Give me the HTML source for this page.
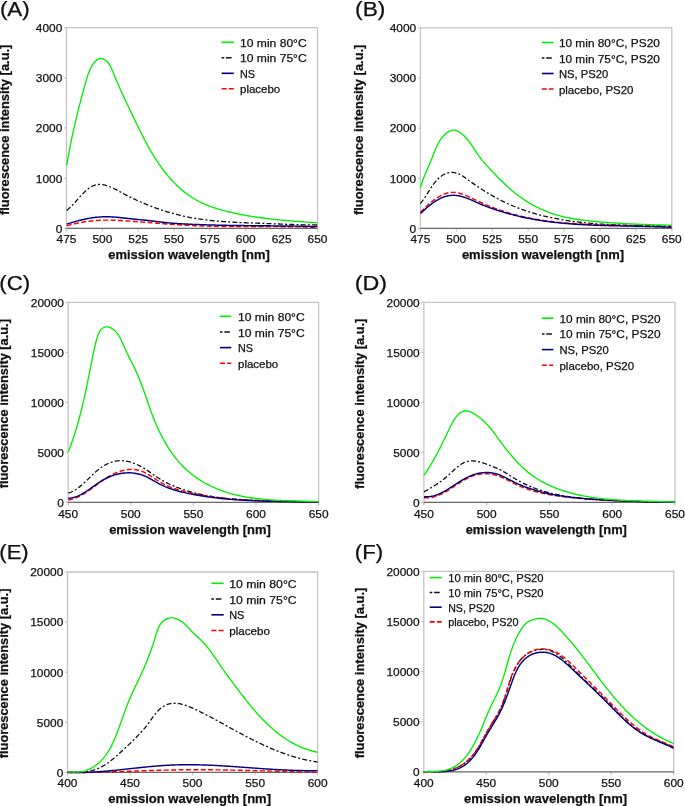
<!DOCTYPE html>
<html><head><meta charset="utf-8"><style>
html,body{margin:0;padding:0;background:#fff;}
body{width:685px;height:806px;overflow:hidden;}
svg{display:block;filter:blur(0.35px);}
text{font-family:"Liberation Sans", sans-serif;fill:#111;stroke:#111;stroke-width:0.25px;}
</style></head><body>
<svg width="685" height="806" viewBox="0 0 685 806">
<rect width="685" height="806" fill="#fff"/>
<path d="M66.5,27.7 H317.5 V230.6" fill="none" stroke="#c4c4c4" stroke-width="1.3"/>
<path d="M66.5,27.7 V230.6" fill="none" stroke="#c4c4c4" stroke-width="1.3"/>
<path d="M64,228.4 H66.5" stroke="#c4c4c4" stroke-width="1.2"/>
<text x="62.3" y="232.7" font-size="11.6" text-anchor="end" font-weight="normal" textLength="6.62" lengthAdjust="spacingAndGlyphs">0</text>
<path d="M64,178.22 H66.5" stroke="#c4c4c4" stroke-width="1.2"/>
<text x="62.3" y="182.53" font-size="11.6" text-anchor="end" font-weight="normal" textLength="26.48" lengthAdjust="spacingAndGlyphs">1000</text>
<path d="M64,128.05 H66.5" stroke="#c4c4c4" stroke-width="1.2"/>
<text x="62.3" y="132.35" font-size="11.6" text-anchor="end" font-weight="normal" textLength="26.48" lengthAdjust="spacingAndGlyphs">2000</text>
<path d="M64,77.88 H66.5" stroke="#c4c4c4" stroke-width="1.2"/>
<text x="62.3" y="82.17" font-size="11.6" text-anchor="end" font-weight="normal" textLength="26.48" lengthAdjust="spacingAndGlyphs">3000</text>
<path d="M64,27.7 H66.5" stroke="#c4c4c4" stroke-width="1.2"/>
<text x="62.3" y="32" font-size="11.6" text-anchor="end" font-weight="normal" textLength="26.48" lengthAdjust="spacingAndGlyphs">4000</text>
<path d="M66.5,228.4 V231.6" stroke="#c4c4c4" stroke-width="1.1"/>
<text x="66.5" y="243" font-size="11.6" text-anchor="middle" font-weight="normal" textLength="19.86" lengthAdjust="spacingAndGlyphs">475</text>
<path d="M102.36,228.4 V231.6" stroke="#c4c4c4" stroke-width="1.1"/>
<text x="102.36" y="243" font-size="11.6" text-anchor="middle" font-weight="normal" textLength="19.86" lengthAdjust="spacingAndGlyphs">500</text>
<path d="M138.21,228.4 V231.6" stroke="#c4c4c4" stroke-width="1.1"/>
<text x="138.21" y="243" font-size="11.6" text-anchor="middle" font-weight="normal" textLength="19.86" lengthAdjust="spacingAndGlyphs">525</text>
<path d="M174.07,228.4 V231.6" stroke="#c4c4c4" stroke-width="1.1"/>
<text x="174.07" y="243" font-size="11.6" text-anchor="middle" font-weight="normal" textLength="19.86" lengthAdjust="spacingAndGlyphs">550</text>
<path d="M209.93,228.4 V231.6" stroke="#c4c4c4" stroke-width="1.1"/>
<text x="209.93" y="243" font-size="11.6" text-anchor="middle" font-weight="normal" textLength="19.86" lengthAdjust="spacingAndGlyphs">575</text>
<path d="M245.79,228.4 V231.6" stroke="#c4c4c4" stroke-width="1.1"/>
<text x="245.79" y="243" font-size="11.6" text-anchor="middle" font-weight="normal" textLength="19.86" lengthAdjust="spacingAndGlyphs">600</text>
<path d="M281.64,228.4 V231.6" stroke="#c4c4c4" stroke-width="1.1"/>
<text x="281.64" y="243" font-size="11.6" text-anchor="middle" font-weight="normal" textLength="19.86" lengthAdjust="spacingAndGlyphs">625</text>
<path d="M317.5,228.4 V231.6" stroke="#c4c4c4" stroke-width="1.1"/>
<text x="317.5" y="243" font-size="11.6" text-anchor="middle" font-weight="normal" textLength="19.86" lengthAdjust="spacingAndGlyphs">650</text>
<path d="M66.5,228.4 H317.5" stroke="#686868" stroke-width="1.3"/>
<path d="M66.7,210.4 L67.64,209.63 L68.55,208.87 L69.44,208.08 L70.32,207.26 L71.19,206.42 L72.04,205.56 L72.88,204.68 L73.72,203.78 L74.54,202.88 L75.37,201.96 L76.19,201.03 L77.01,200.09 L77.83,199.16 L78.65,198.22 L79.48,197.28 L80.32,196.35 L81.17,195.43 L82.02,194.51 L82.89,193.61 L83.78,192.72 L84.68,191.85 L85.6,190.99 L86.54,190.16 L87.5,189.36 L88.48,188.59 L89.49,187.86 L90.51,187.18 L91.56,186.56 L92.62,186.01 L93.7,185.53 L94.8,185.13 L95.92,184.82 L97.05,184.61 L98.2,184.48 L99.36,184.43 L100.53,184.46 L101.7,184.56 L102.88,184.72 L104.06,184.94 L105.23,185.22 L106.4,185.55 L107.57,185.92 L108.72,186.32 L109.86,186.76 L110.99,187.23 L112.11,187.72 L113.22,188.24 L114.33,188.78 L115.42,189.33 L116.51,189.89 L117.6,190.47 L118.68,191.05 L119.77,191.64 L120.85,192.23 L121.93,192.82 L123.02,193.4 L124.11,193.98 L125.2,194.55 L126.29,195.12 L127.38,195.68 L128.48,196.24 L129.58,196.79 L130.68,197.33 L131.78,197.87 L132.89,198.41 L134,198.94 L135.11,199.46 L136.22,199.98 L137.34,200.49 L138.45,201 L139.57,201.5 L140.69,201.99 L141.82,202.48 L142.94,202.97 L144.07,203.44 L145.2,203.92 L146.33,204.38 L147.46,204.84 L148.6,205.3 L149.73,205.75 L150.87,206.19 L152.01,206.63 L153.16,207.06 L154.3,207.49 L155.45,207.9 L156.6,208.32 L157.75,208.73 L158.9,209.13 L160.05,209.52 L161.21,209.91 L162.37,210.29 L163.53,210.67 L164.69,211.04 L165.85,211.4 L167.01,211.76 L168.18,212.11 L169.35,212.46 L170.52,212.8 L171.69,213.13 L172.86,213.45 L174.04,213.77 L175.21,214.09 L176.39,214.39 L177.57,214.69 L178.75,214.99 L179.93,215.27 L181.11,215.55 L182.3,215.83 L183.48,216.09 L184.67,216.35 L185.86,216.61 L187.05,216.85 L188.24,217.09 L189.44,217.33 L190.63,217.55 L191.83,217.77 L193.03,217.99 L194.22,218.19 L195.42,218.39 L196.63,218.59 L197.83,218.78 L199.03,218.96 L200.24,219.14 L201.44,219.31 L202.65,219.47 L203.86,219.63 L205.06,219.79 L206.27,219.94 L207.48,220.09 L208.7,220.23 L209.91,220.36 L211.12,220.49 L212.34,220.62 L213.55,220.74 L214.77,220.86 L215.98,220.97 L217.2,221.08 L218.42,221.18 L219.63,221.29 L220.85,221.38 L222.07,221.48 L223.29,221.57 L224.51,221.66 L225.73,221.74 L226.95,221.82 L228.18,221.9 L229.4,221.97 L230.62,222.05 L231.84,222.12 L233.07,222.18 L234.29,222.25 L235.51,222.31 L236.74,222.37 L237.96,222.43 L239.18,222.49 L240.41,222.54 L241.63,222.59 L242.86,222.65 L244.08,222.7 L245.31,222.74 L246.53,222.79 L247.75,222.84 L248.98,222.88 L250.2,222.93 L251.43,222.97 L252.65,223.02 L253.87,223.06 L255.1,223.1 L256.32,223.14 L257.54,223.19 L258.76,223.23 L259.99,223.27 L261.21,223.31 L262.43,223.36 L263.65,223.4 L264.87,223.44 L266.09,223.49 L267.31,223.53 L268.53,223.58 L269.74,223.63 L270.96,223.67 L272.18,223.72 L273.4,223.77 L274.61,223.82 L275.83,223.87 L277.05,223.92 L278.26,223.96 L279.48,224.01 L280.69,224.06 L281.91,224.11 L283.13,224.15 L284.34,224.2 L285.56,224.25 L286.77,224.29 L287.99,224.34 L289.21,224.38 L290.42,224.42 L291.64,224.47 L292.86,224.51 L294.07,224.54 L295.29,224.58 L296.51,224.62 L297.73,224.65 L298.95,224.69 L300.17,224.72 L301.39,224.75 L302.61,224.78 L303.83,224.8 L305.05,224.82 L306.28,224.85 L307.5,224.86 L308.73,224.88 L309.95,224.9 L311.18,224.91 L312.41,224.92 L313.63,224.92 L314.86,224.92 L316.09,224.93 L317.3,225" fill="none" stroke="#111111" stroke-width="1.3" stroke-dasharray="5 2.2 2 2.2" stroke-linejoin="round"/>
<path d="M66.7,225.4 L67.85,225.43 L68.97,225.13 L70.09,224.84 L71.22,224.55 L72.34,224.28 L73.47,224.01 L74.59,223.75 L75.72,223.5 L76.84,223.26 L77.97,223.03 L79.1,222.81 L80.23,222.59 L81.36,222.39 L82.49,222.19 L83.62,222 L84.76,221.82 L85.89,221.65 L87.02,221.49 L88.16,221.33 L89.29,221.19 L90.43,221.05 L91.57,220.93 L92.7,220.81 L93.84,220.7 L94.98,220.6 L96.12,220.51 L97.26,220.43 L98.4,220.36 L99.54,220.29 L100.68,220.24 L101.82,220.19 L102.96,220.16 L104.1,220.13 L105.25,220.11 L106.39,220.1 L107.53,220.1 L108.67,220.11 L109.82,220.13 L110.96,220.15 L112.11,220.18 L113.25,220.21 L114.4,220.25 L115.54,220.3 L116.69,220.35 L117.83,220.4 L118.98,220.46 L120.12,220.52 L121.27,220.59 L122.41,220.66 L123.56,220.73 L124.7,220.8 L125.85,220.87 L126.99,220.95 L128.14,221.02 L129.28,221.1 L130.43,221.18 L131.57,221.26 L132.71,221.34 L133.86,221.42 L135,221.51 L136.15,221.59 L137.29,221.68 L138.44,221.76 L139.58,221.85 L140.72,221.94 L141.87,222.02 L143.01,222.11 L144.16,222.2 L145.3,222.29 L146.44,222.38 L147.59,222.47 L148.73,222.56 L149.88,222.65 L151.02,222.74 L152.16,222.83 L153.31,222.93 L154.45,223.02 L155.6,223.11 L156.74,223.2 L157.88,223.29 L159.03,223.38 L160.17,223.47 L161.31,223.56 L162.46,223.64 L163.6,223.73 L164.75,223.82 L165.89,223.91 L167.03,223.99 L168.18,224.08 L169.32,224.16 L170.47,224.24 L171.61,224.33 L172.76,224.41 L173.9,224.49 L175.04,224.57 L176.19,224.64 L177.33,224.72 L178.48,224.8 L179.62,224.87 L180.77,224.94 L181.91,225.01 L183.06,225.08 L184.2,225.15 L185.35,225.21 L186.49,225.28 L187.64,225.34 L188.78,225.4 L189.93,225.46 L191.07,225.51 L192.22,225.57 L193.37,225.62 L194.51,225.67 L195.66,225.72 L196.8,225.76 L197.95,225.81 L199.1,225.85 L200.24,225.9 L201.39,225.94 L202.53,225.97 L203.68,226.01 L204.83,226.05 L205.97,226.08 L207.12,226.11 L208.27,226.14 L209.42,226.17 L210.56,226.2 L211.71,226.23 L212.86,226.25 L214,226.28 L215.15,226.3 L216.3,226.32 L217.45,226.34 L218.59,226.36 L219.74,226.38 L220.89,226.4 L222.04,226.42 L223.18,226.43 L224.33,226.44 L225.48,226.46 L226.63,226.47 L227.77,226.48 L228.92,226.49 L230.07,226.5 L231.22,226.51 L232.37,226.52 L233.51,226.53 L234.66,226.54 L235.81,226.54 L236.96,226.55 L238.11,226.55 L239.25,226.56 L240.4,226.56 L241.55,226.57 L242.7,226.57 L243.85,226.57 L245,226.58 L246.14,226.58 L247.29,226.58 L248.44,226.58 L249.59,226.58 L250.74,226.58 L251.88,226.58 L253.03,226.59 L254.18,226.59 L255.33,226.59 L256.48,226.59 L257.63,226.59 L258.77,226.59 L259.92,226.59 L261.07,226.59 L262.22,226.59 L263.37,226.59 L264.52,226.59 L265.66,226.59 L266.81,226.6 L267.96,226.6 L269.11,226.6 L270.26,226.6 L271.4,226.61 L272.55,226.61 L273.7,226.61 L274.85,226.62 L276,226.62 L277.14,226.63 L278.29,226.63 L279.44,226.64 L280.59,226.65 L281.74,226.66 L282.88,226.66 L284.03,226.67 L285.18,226.68 L286.33,226.69 L287.47,226.71 L288.62,226.72 L289.77,226.73 L290.92,226.75 L292.06,226.76 L293.21,226.78 L294.36,226.8 L295.51,226.82 L296.65,226.84 L297.8,226.86 L298.95,226.88 L300.09,226.9 L301.24,226.93 L302.39,226.95 L303.53,226.98 L304.68,227.01 L305.83,227.04 L306.97,227.07 L308.12,227.1 L309.27,227.14 L310.41,227.17 L311.56,227.21 L312.7,227.25 L313.85,227.29 L315,227.33 L316.14,227.37 L317.3,227.2" fill="none" stroke="#ff0000" stroke-width="1.45" stroke-dasharray="5 2.4" stroke-linejoin="round"/>
<path d="M66.7,223.9 L67.84,223.77 L68.95,223.42 L70.05,223.08 L71.16,222.75 L72.27,222.42 L73.38,222.09 L74.49,221.77 L75.6,221.46 L76.72,221.16 L77.83,220.86 L78.95,220.57 L80.06,220.28 L81.18,220.01 L82.3,219.74 L83.42,219.48 L84.54,219.24 L85.66,219 L86.79,218.77 L87.91,218.55 L89.04,218.34 L90.16,218.15 L91.29,217.96 L92.42,217.79 L93.55,217.62 L94.68,217.48 L95.81,217.34 L96.94,217.22 L98.08,217.11 L99.22,217.01 L100.35,216.93 L101.49,216.86 L102.63,216.81 L103.77,216.77 L104.91,216.75 L106.05,216.74 L107.2,216.75 L108.34,216.78 L109.49,216.81 L110.63,216.86 L111.78,216.91 L112.93,216.98 L114.08,217.06 L115.22,217.15 L116.37,217.24 L117.52,217.34 L118.67,217.45 L119.82,217.57 L120.97,217.68 L122.12,217.81 L123.27,217.93 L124.42,218.06 L125.57,218.19 L126.72,218.32 L127.87,218.45 L129.02,218.58 L130.17,218.7 L131.31,218.83 L132.46,218.95 L133.61,219.07 L134.75,219.18 L135.9,219.3 L137.04,219.41 L138.18,219.52 L139.33,219.63 L140.47,219.75 L141.61,219.86 L142.75,219.97 L143.89,220.09 L145.03,220.2 L146.17,220.32 L147.31,220.44 L148.45,220.56 L149.59,220.69 L150.73,220.82 L151.87,220.95 L153.01,221.08 L154.15,221.22 L155.28,221.35 L156.42,221.49 L157.56,221.63 L158.7,221.76 L159.84,221.9 L160.98,222.03 L162.12,222.16 L163.26,222.29 L164.4,222.42 L165.54,222.55 L166.68,222.67 L167.83,222.78 L168.97,222.9 L170.11,223 L171.26,223.11 L172.4,223.2 L173.55,223.29 L174.69,223.37 L175.84,223.45 L176.99,223.53 L178.14,223.6 L179.28,223.67 L180.43,223.73 L181.58,223.8 L182.73,223.86 L183.88,223.92 L185.03,223.98 L186.17,224.04 L187.32,224.09 L188.47,224.15 L189.62,224.2 L190.77,224.26 L191.92,224.31 L193.07,224.36 L194.22,224.41 L195.37,224.45 L196.51,224.5 L197.66,224.55 L198.81,224.59 L199.96,224.63 L201.11,224.67 L202.26,224.71 L203.41,224.75 L204.56,224.79 L205.71,224.83 L206.86,224.86 L208.01,224.9 L209.16,224.93 L210.31,224.97 L211.46,225 L212.61,225.03 L213.76,225.06 L214.91,225.09 L216.06,225.12 L217.21,225.15 L218.36,225.17 L219.51,225.2 L220.66,225.22 L221.81,225.25 L222.96,225.27 L224.11,225.29 L225.26,225.32 L226.41,225.34 L227.56,225.36 L228.71,225.38 L229.86,225.4 L231.01,225.42 L232.16,225.43 L233.32,225.45 L234.47,225.47 L235.62,225.48 L236.77,225.5 L237.92,225.52 L239.07,225.53 L240.22,225.55 L241.37,225.56 L242.52,225.57 L243.67,225.59 L244.82,225.6 L245.97,225.61 L247.12,225.63 L248.27,225.64 L249.42,225.65 L250.58,225.66 L251.73,225.67 L252.88,225.68 L254.03,225.69 L255.18,225.7 L256.33,225.71 L257.48,225.73 L258.63,225.74 L259.78,225.75 L260.93,225.76 L262.08,225.77 L263.23,225.78 L264.38,225.79 L265.54,225.8 L266.69,225.81 L267.84,225.82 L268.99,225.83 L270.14,225.84 L271.29,225.85 L272.44,225.86 L273.59,225.87 L274.74,225.88 L275.89,225.89 L277.04,225.9 L278.19,225.91 L279.34,225.93 L280.49,225.94 L281.64,225.95 L282.8,225.96 L283.95,225.98 L285.1,225.99 L286.25,226 L287.4,226.02 L288.55,226.03 L289.7,226.05 L290.85,226.06 L292,226.08 L293.15,226.09 L294.3,226.11 L295.45,226.13 L296.6,226.15 L297.75,226.17 L298.9,226.19 L300.05,226.21 L301.2,226.23 L302.35,226.25 L303.5,226.27 L304.65,226.29 L305.8,226.32 L306.95,226.34 L308.1,226.37 L309.25,226.39 L310.4,226.42 L311.55,226.45 L312.69,226.48 L313.84,226.51 L314.99,226.54 L316.14,226.57 L317.3,226.5" fill="none" stroke="#000080" stroke-width="1.45" stroke-linejoin="round"/>
<path d="M66.7,165.1 L67.05,163.23 L67.38,161.33 L67.71,159.45 L68.05,157.56 L68.39,155.69 L68.73,153.82 L69.08,151.95 L69.44,150.09 L69.8,148.23 L70.16,146.38 L70.52,144.53 L70.89,142.69 L71.27,140.85 L71.65,139.01 L72.03,137.17 L72.42,135.34 L72.81,133.51 L73.21,131.68 L73.61,129.86 L74.02,128.03 L74.43,126.21 L74.85,124.39 L75.27,122.57 L75.69,120.75 L76.12,118.93 L76.56,117.11 L76.99,115.29 L77.44,113.48 L77.89,111.66 L78.34,109.84 L78.8,108.02 L79.26,106.2 L79.73,104.37 L80.2,102.55 L80.68,100.72 L81.16,98.9 L81.65,97.07 L82.14,95.23 L82.64,93.4 L83.15,91.56 L83.65,89.72 L84.17,87.87 L84.69,86.02 L85.21,84.17 L85.74,82.31 L86.27,80.45 L86.82,78.59 L87.38,76.73 L87.97,74.89 L88.6,73.07 L89.29,71.29 L90.03,69.54 L90.84,67.84 L91.73,66.2 L92.72,64.63 L93.8,63.12 L95,61.7 L96.32,60.38 L97.77,59.28 L99.37,58.6 L101.12,58.5 L102.88,58.86 L104.52,59.56 L105.97,60.51 L107.26,61.68 L108.41,63.03 L109.44,64.54 L110.37,66.19 L111.22,67.93 L112.02,69.74 L112.78,71.59 L113.53,73.45 L114.27,75.29 L115.03,77.12 L115.78,78.94 L116.54,80.73 L117.31,82.52 L118.08,84.29 L118.85,86.05 L119.62,87.79 L120.4,89.53 L121.19,91.26 L121.97,92.97 L122.76,94.68 L123.55,96.39 L124.34,98.08 L125.13,99.77 L125.93,101.46 L126.73,103.14 L127.53,104.82 L128.33,106.5 L129.14,108.18 L129.94,109.86 L130.74,111.54 L131.55,113.22 L132.36,114.9 L133.16,116.58 L133.97,118.27 L134.78,119.96 L135.6,121.66 L136.41,123.35 L137.23,125.04 L138.05,126.74 L138.88,128.43 L139.71,130.13 L140.55,131.82 L141.39,133.51 L142.25,135.2 L143.1,136.88 L143.97,138.56 L144.85,140.24 L145.73,141.92 L146.62,143.58 L147.53,145.25 L148.44,146.91 L149.37,148.56 L150.31,150.2 L151.26,151.84 L152.22,153.47 L153.2,155.09 L154.19,156.7 L155.2,158.31 L156.22,159.9 L157.26,161.48 L158.31,163.06 L159.38,164.62 L160.47,166.17 L161.58,167.71 L162.7,169.23 L163.85,170.74 L165.01,172.24 L166.19,173.72 L167.4,175.19 L168.62,176.64 L169.87,178.07 L171.13,179.48 L172.42,180.88 L173.72,182.25 L175.05,183.61 L176.4,184.94 L177.76,186.24 L179.15,187.52 L180.56,188.78 L181.98,190.01 L183.43,191.21 L184.9,192.38 L186.39,193.53 L187.91,194.64 L189.44,195.72 L190.99,196.77 L192.56,197.79 L194.16,198.77 L195.78,199.71 L197.41,200.62 L199.07,201.5 L200.75,202.33 L202.44,203.14 L204.16,203.91 L205.89,204.65 L207.63,205.36 L209.39,206.04 L211.16,206.7 L212.95,207.32 L214.74,207.93 L216.55,208.51 L218.36,209.06 L220.18,209.6 L222.01,210.11 L223.85,210.61 L225.69,211.09 L227.53,211.55 L229.38,211.99 L231.23,212.43 L233.08,212.84 L234.93,213.25 L236.79,213.65 L238.64,214.03 L240.49,214.4 L242.35,214.76 L244.2,215.1 L246.06,215.44 L247.92,215.77 L249.78,216.08 L251.64,216.39 L253.5,216.68 L255.36,216.97 L257.22,217.24 L259.09,217.51 L260.95,217.77 L262.82,218.02 L264.68,218.26 L266.55,218.49 L268.42,218.72 L270.29,218.94 L272.16,219.15 L274.03,219.35 L275.9,219.55 L277.78,219.74 L279.65,219.93 L281.52,220.11 L283.4,220.28 L285.28,220.45 L287.15,220.62 L289.03,220.78 L290.91,220.93 L292.79,221.08 L294.68,221.23 L296.56,221.38 L298.44,221.52 L300.33,221.66 L302.21,221.79 L304.1,221.93 L305.98,222.06 L307.87,222.19 L309.76,222.31 L311.65,222.44 L313.54,222.57 L315.43,222.69 L317.3,222.8" fill="none" stroke="#00f000" stroke-width="1.35" stroke-linejoin="round"/>
<path d="M221.6,42.3 H233.8" stroke="#00f000" stroke-width="1.6"/>
<text x="240" y="46.89" font-size="11.2" text-anchor="start" font-weight="normal" textLength="66.7" lengthAdjust="spacingAndGlyphs">10 min 80°C</text>
<path d="M221.6,57.8 H233.8" stroke="#111111" stroke-width="1.45" stroke-dasharray="2.6 1.8 5.6 4"/>
<text x="240" y="62.39" font-size="11.2" text-anchor="start" font-weight="normal" textLength="66.7" lengthAdjust="spacingAndGlyphs">10 min 75°C</text>
<path d="M221.6,73.3 H233.8" stroke="#000080" stroke-width="1.6"/>
<text x="240" y="77.89" font-size="11.2" text-anchor="start" font-weight="normal" textLength="14.99" lengthAdjust="spacingAndGlyphs">NS</text>
<path d="M221.6,88.8 H233.8" stroke="#ff0000" stroke-width="1.6" stroke-dasharray="5 2.2"/>
<text x="240" y="93.39" font-size="11.2" text-anchor="start" font-weight="normal" textLength="40.26" lengthAdjust="spacingAndGlyphs">placebo</text>
<text x="-0.1" y="15.8" font-size="19.4" text-anchor="start" font-weight="normal" textLength="29.8" lengthAdjust="spacingAndGlyphs">(A)</text>
<text x="189.05" y="259.3" font-size="12.2" text-anchor="middle" font-weight="bold" textLength="161.5" lengthAdjust="spacingAndGlyphs">emission wavelength [nm]</text>
<text x="0" y="0" font-size="12.2" font-weight="bold" text-anchor="middle" textLength="170.5" lengthAdjust="spacingAndGlyphs" transform="translate(8.6,129.85) rotate(-90)">fluorescence intensity [a.u.]</text>
<path d="M420.4,27.9 H671.8 V230.6" fill="none" stroke="#c4c4c4" stroke-width="1.3"/>
<path d="M420.4,27.9 V230.6" fill="none" stroke="#c4c4c4" stroke-width="1.3"/>
<path d="M417.9,228.4 H420.4" stroke="#c4c4c4" stroke-width="1.2"/>
<text x="416.2" y="232.7" font-size="11.6" text-anchor="end" font-weight="normal" textLength="6.62" lengthAdjust="spacingAndGlyphs">0</text>
<path d="M417.9,178.28 H420.4" stroke="#c4c4c4" stroke-width="1.2"/>
<text x="416.2" y="182.58" font-size="11.6" text-anchor="end" font-weight="normal" textLength="26.48" lengthAdjust="spacingAndGlyphs">1000</text>
<path d="M417.9,128.15 H420.4" stroke="#c4c4c4" stroke-width="1.2"/>
<text x="416.2" y="132.45" font-size="11.6" text-anchor="end" font-weight="normal" textLength="26.48" lengthAdjust="spacingAndGlyphs">2000</text>
<path d="M417.9,78.03 H420.4" stroke="#c4c4c4" stroke-width="1.2"/>
<text x="416.2" y="82.33" font-size="11.6" text-anchor="end" font-weight="normal" textLength="26.48" lengthAdjust="spacingAndGlyphs">3000</text>
<path d="M417.9,27.9 H420.4" stroke="#c4c4c4" stroke-width="1.2"/>
<text x="416.2" y="32.2" font-size="11.6" text-anchor="end" font-weight="normal" textLength="26.48" lengthAdjust="spacingAndGlyphs">4000</text>
<path d="M420.4,228.4 V231.6" stroke="#c4c4c4" stroke-width="1.1"/>
<text x="420.4" y="243" font-size="11.6" text-anchor="middle" font-weight="normal" textLength="19.86" lengthAdjust="spacingAndGlyphs">475</text>
<path d="M456.31,228.4 V231.6" stroke="#c4c4c4" stroke-width="1.1"/>
<text x="456.31" y="243" font-size="11.6" text-anchor="middle" font-weight="normal" textLength="19.86" lengthAdjust="spacingAndGlyphs">500</text>
<path d="M492.23,228.4 V231.6" stroke="#c4c4c4" stroke-width="1.1"/>
<text x="492.23" y="243" font-size="11.6" text-anchor="middle" font-weight="normal" textLength="19.86" lengthAdjust="spacingAndGlyphs">525</text>
<path d="M528.14,228.4 V231.6" stroke="#c4c4c4" stroke-width="1.1"/>
<text x="528.14" y="243" font-size="11.6" text-anchor="middle" font-weight="normal" textLength="19.86" lengthAdjust="spacingAndGlyphs">550</text>
<path d="M564.06,228.4 V231.6" stroke="#c4c4c4" stroke-width="1.1"/>
<text x="564.06" y="243" font-size="11.6" text-anchor="middle" font-weight="normal" textLength="19.86" lengthAdjust="spacingAndGlyphs">575</text>
<path d="M599.97,228.4 V231.6" stroke="#c4c4c4" stroke-width="1.1"/>
<text x="599.97" y="243" font-size="11.6" text-anchor="middle" font-weight="normal" textLength="19.86" lengthAdjust="spacingAndGlyphs">600</text>
<path d="M635.89,228.4 V231.6" stroke="#c4c4c4" stroke-width="1.1"/>
<text x="635.89" y="243" font-size="11.6" text-anchor="middle" font-weight="normal" textLength="19.86" lengthAdjust="spacingAndGlyphs">625</text>
<path d="M671.8,228.4 V231.6" stroke="#c4c4c4" stroke-width="1.1"/>
<text x="671.8" y="243" font-size="11.6" text-anchor="middle" font-weight="normal" textLength="19.86" lengthAdjust="spacingAndGlyphs">650</text>
<path d="M420.4,228.4 H671.8" stroke="#686868" stroke-width="1.3"/>
<path d="M420.3,203.5 L421.12,202.56 L421.89,201.62 L422.65,200.64 L423.38,199.65 L424.1,198.63 L424.8,197.59 L425.49,196.54 L426.17,195.47 L426.85,194.39 L427.52,193.3 L428.19,192.21 L428.86,191.11 L429.54,190.02 L430.23,188.93 L430.92,187.84 L431.63,186.76 L432.36,185.69 L433.11,184.63 L433.88,183.59 L434.68,182.57 L435.5,181.57 L436.36,180.6 L437.24,179.65 L438.17,178.73 L439.14,177.84 L440.14,176.99 L441.18,176.19 L442.25,175.45 L443.36,174.77 L444.48,174.16 L445.64,173.63 L446.81,173.2 L448,172.86 L449.2,172.62 L450.41,172.47 L451.62,172.42 L452.84,172.45 L454.05,172.57 L455.25,172.77 L456.44,173.05 L457.61,173.4 L458.77,173.83 L459.89,174.33 L460.99,174.9 L462.06,175.53 L463.1,176.21 L464.13,176.92 L465.14,177.66 L466.15,178.42 L467.17,179.17 L468.19,179.92 L469.21,180.67 L470.23,181.41 L471.26,182.16 L472.3,182.89 L473.34,183.62 L474.38,184.35 L475.43,185.08 L476.48,185.79 L477.54,186.51 L478.6,187.22 L479.66,187.92 L480.73,188.62 L481.8,189.32 L482.87,190 L483.95,190.69 L485.03,191.36 L486.12,192.04 L487.21,192.7 L488.3,193.36 L489.4,194.01 L490.5,194.66 L491.61,195.3 L492.71,195.93 L493.82,196.56 L494.94,197.18 L496.06,197.79 L497.18,198.39 L498.3,198.99 L499.43,199.58 L500.56,200.16 L501.69,200.74 L502.83,201.3 L503.97,201.86 L505.11,202.41 L506.25,202.95 L507.4,203.48 L508.55,204 L509.71,204.52 L510.86,205.02 L512.02,205.52 L513.18,206.01 L514.35,206.49 L515.51,206.97 L516.68,207.43 L517.86,207.89 L519.03,208.34 L520.21,208.78 L521.39,209.21 L522.57,209.64 L523.75,210.06 L524.94,210.47 L526.13,210.87 L527.32,211.27 L528.51,211.66 L529.71,212.04 L530.91,212.41 L532.11,212.78 L533.31,213.14 L534.51,213.49 L535.72,213.83 L536.93,214.17 L538.14,214.5 L539.35,214.83 L540.57,215.15 L541.78,215.46 L543,215.77 L544.22,216.06 L545.44,216.36 L546.67,216.64 L547.89,216.92 L549.12,217.2 L550.35,217.47 L551.58,217.73 L552.81,217.98 L554.04,218.23 L555.28,218.48 L556.52,218.72 L557.76,218.95 L558.99,219.18 L560.24,219.4 L561.48,219.62 L562.72,219.83 L563.97,220.04 L565.21,220.24 L566.46,220.43 L567.71,220.62 L568.96,220.81 L570.21,220.99 L571.46,221.17 L572.72,221.34 L573.97,221.5 L575.23,221.67 L576.49,221.82 L577.74,221.98 L579,222.12 L580.26,222.27 L581.52,222.41 L582.78,222.55 L584.05,222.68 L585.31,222.8 L586.57,222.93 L587.84,223.05 L589.1,223.16 L590.37,223.28 L591.63,223.39 L592.9,223.49 L594.17,223.59 L595.44,223.69 L596.7,223.78 L597.97,223.88 L599.24,223.96 L600.51,224.05 L601.78,224.13 L603.05,224.21 L604.32,224.29 L605.59,224.36 L606.87,224.43 L608.14,224.5 L609.41,224.56 L610.68,224.63 L611.95,224.68 L613.22,224.74 L614.5,224.8 L615.77,224.85 L617.04,224.9 L618.31,224.95 L619.58,225 L620.86,225.04 L622.13,225.08 L623.4,225.12 L624.67,225.16 L625.94,225.2 L627.21,225.23 L628.48,225.27 L629.75,225.3 L631.02,225.33 L632.29,225.36 L633.56,225.39 L634.83,225.42 L636.09,225.44 L637.36,225.47 L638.63,225.49 L639.89,225.51 L641.16,225.54 L642.42,225.56 L643.69,225.58 L644.95,225.6 L646.21,225.62 L647.48,225.64 L648.74,225.66 L650,225.68 L651.26,225.69 L652.51,225.71 L653.77,225.73 L655.03,225.75 L656.28,225.77 L657.54,225.78 L658.79,225.8 L660.04,225.82 L661.29,225.84 L662.54,225.86 L663.79,225.88 L665.04,225.9 L666.28,225.92 L667.53,225.94 L668.77,225.96 L670.01,225.98 L671.4,226.1" fill="none" stroke="#111111" stroke-width="1.3" stroke-dasharray="5 2.2 2 2.2" stroke-linejoin="round"/>
<path d="M420.3,212.2 L421.17,211.53 L421.97,210.72 L422.78,209.9 L423.61,209.07 L424.47,208.24 L425.33,207.4 L426.22,206.56 L427.12,205.72 L428.04,204.89 L428.97,204.06 L429.92,203.24 L430.88,202.43 L431.85,201.63 L432.84,200.85 L433.84,200.09 L434.85,199.35 L435.88,198.64 L436.91,197.94 L437.95,197.28 L439.01,196.65 L440.07,196.05 L441.14,195.49 L442.22,194.96 L443.31,194.48 L444.4,194.04 L445.5,193.64 L446.6,193.3 L447.71,193 L448.82,192.76 L449.94,192.57 L451.06,192.44 L452.19,192.37 L453.31,192.37 L454.44,192.42 L455.57,192.53 L456.7,192.69 L457.83,192.89 L458.96,193.15 L460.1,193.45 L461.23,193.78 L462.36,194.15 L463.5,194.56 L464.63,194.99 L465.76,195.45 L466.89,195.93 L468.02,196.43 L469.15,196.94 L470.27,197.47 L471.39,198.01 L472.51,198.55 L473.63,199.09 L474.75,199.63 L475.86,200.17 L476.97,200.7 L478.07,201.22 L479.18,201.74 L480.28,202.24 L481.37,202.74 L482.47,203.23 L483.57,203.72 L484.66,204.19 L485.75,204.66 L486.85,205.12 L487.94,205.58 L489.04,206.02 L490.14,206.47 L491.23,206.9 L492.33,207.33 L493.44,207.75 L494.54,208.17 L495.65,208.58 L496.77,208.99 L497.89,209.39 L499.01,209.79 L500.13,210.18 L501.26,210.56 L502.4,210.94 L503.53,211.31 L504.67,211.68 L505.82,212.05 L506.96,212.4 L508.11,212.75 L509.27,213.1 L510.42,213.44 L511.58,213.77 L512.74,214.1 L513.9,214.42 L515.06,214.74 L516.23,215.05 L517.4,215.35 L518.57,215.65 L519.74,215.94 L520.91,216.23 L522.08,216.51 L523.26,216.78 L524.43,217.05 L525.61,217.31 L526.78,217.56 L527.96,217.81 L529.14,218.05 L530.32,218.28 L531.5,218.51 L532.68,218.74 L533.86,218.96 L535.04,219.17 L536.22,219.37 L537.4,219.58 L538.58,219.77 L539.77,219.96 L540.95,220.15 L542.14,220.33 L543.32,220.5 L544.51,220.67 L545.69,220.84 L546.88,221 L548.07,221.15 L549.25,221.31 L550.44,221.45 L551.63,221.59 L552.82,221.73 L554.01,221.87 L555.2,222 L556.39,222.12 L557.58,222.24 L558.77,222.36 L559.96,222.48 L561.15,222.59 L562.34,222.69 L563.54,222.8 L564.73,222.9 L565.92,222.99 L567.12,223.09 L568.31,223.18 L569.51,223.27 L570.7,223.35 L571.9,223.43 L573.09,223.51 L574.29,223.59 L575.48,223.66 L576.68,223.73 L577.87,223.8 L579.07,223.87 L580.27,223.93 L581.46,224 L582.66,224.06 L583.86,224.11 L585.06,224.17 L586.25,224.23 L587.45,224.28 L588.65,224.33 L589.85,224.38 L591.05,224.43 L592.25,224.48 L593.45,224.52 L594.64,224.57 L595.84,224.61 L597.04,224.66 L598.24,224.7 L599.44,224.74 L600.64,224.78 L601.84,224.82 L603.04,224.86 L604.24,224.9 L605.44,224.94 L606.64,224.98 L607.84,225.02 L609.04,225.06 L610.24,225.09 L611.44,225.13 L612.64,225.17 L613.84,225.21 L615.03,225.25 L616.23,225.29 L617.43,225.32 L618.63,225.36 L619.83,225.4 L621.03,225.44 L622.23,225.47 L623.43,225.51 L624.63,225.55 L625.83,225.58 L627.03,225.62 L628.23,225.66 L629.43,225.69 L630.63,225.73 L631.83,225.76 L633.03,225.8 L634.23,225.84 L635.43,225.87 L636.63,225.91 L637.83,225.94 L639.02,225.97 L640.22,226.01 L641.42,226.04 L642.62,226.08 L643.82,226.11 L645.02,226.14 L646.22,226.18 L647.42,226.21 L648.62,226.24 L649.82,226.27 L651.02,226.31 L652.22,226.34 L653.42,226.37 L654.61,226.4 L655.81,226.43 L657.01,226.46 L658.21,226.49 L659.41,226.52 L660.61,226.55 L661.81,226.58 L663.01,226.61 L664.2,226.64 L665.4,226.67 L666.6,226.69 L667.8,226.72 L669,226.75 L670.2,226.78 L671.4,226.8" fill="none" stroke="#ff0000" stroke-width="1.45" stroke-dasharray="5 2.4" stroke-linejoin="round"/>
<path d="M420.3,213.5 L421.24,212.87 L422.08,212.07 L422.93,211.26 L423.8,210.46 L424.68,209.65 L425.58,208.85 L426.49,208.05 L427.41,207.26 L428.35,206.47 L429.3,205.7 L430.26,204.93 L431.23,204.18 L432.21,203.45 L433.21,202.74 L434.21,202.04 L435.23,201.37 L436.26,200.73 L437.3,200.1 L438.34,199.51 L439.4,198.95 L440.47,198.42 L441.54,197.93 L442.63,197.47 L443.72,197.05 L444.82,196.67 L445.93,196.33 L447.05,196.04 L448.18,195.8 L449.31,195.6 L450.44,195.46 L451.59,195.36 L452.74,195.32 L453.89,195.33 L455.05,195.39 L456.21,195.49 L457.38,195.64 L458.54,195.83 L459.7,196.05 L460.87,196.31 L462.03,196.61 L463.18,196.93 L464.33,197.28 L465.48,197.66 L466.62,198.07 L467.75,198.49 L468.88,198.94 L470,199.39 L471.11,199.87 L472.22,200.35 L473.32,200.84 L474.42,201.34 L475.52,201.84 L476.62,202.34 L477.71,202.84 L478.81,203.33 L479.9,203.82 L481,204.3 L482.1,204.76 L483.19,205.21 L484.29,205.66 L485.39,206.09 L486.5,206.51 L487.6,206.92 L488.71,207.33 L489.82,207.73 L490.93,208.12 L492.04,208.5 L493.16,208.88 L494.28,209.26 L495.4,209.63 L496.53,209.99 L497.66,210.35 L498.79,210.71 L499.92,211.07 L501.06,211.42 L502.2,211.76 L503.34,212.1 L504.49,212.44 L505.63,212.77 L506.78,213.1 L507.93,213.43 L509.09,213.75 L510.24,214.06 L511.4,214.37 L512.55,214.67 L513.71,214.97 L514.87,215.27 L516.03,215.56 L517.2,215.84 L518.36,216.12 L519.53,216.4 L520.69,216.67 L521.86,216.93 L523.02,217.19 L524.19,217.44 L525.36,217.69 L526.53,217.94 L527.7,218.17 L528.87,218.41 L530.04,218.63 L531.21,218.86 L532.38,219.08 L533.55,219.29 L534.73,219.5 L535.9,219.7 L537.07,219.9 L538.25,220.09 L539.42,220.28 L540.6,220.47 L541.77,220.65 L542.95,220.83 L544.13,221 L545.31,221.17 L546.48,221.33 L547.66,221.49 L548.84,221.65 L550.02,221.8 L551.2,221.95 L552.38,222.09 L553.56,222.23 L554.74,222.37 L555.93,222.5 L557.11,222.63 L558.29,222.76 L559.47,222.88 L560.66,223 L561.84,223.12 L563.02,223.23 L564.21,223.34 L565.39,223.45 L566.58,223.55 L567.76,223.65 L568.95,223.74 L570.14,223.84 L571.32,223.93 L572.51,224.02 L573.7,224.1 L574.89,224.18 L576.07,224.26 L577.26,224.34 L578.45,224.42 L579.64,224.49 L580.83,224.56 L582.02,224.63 L583.21,224.69 L584.4,224.75 L585.59,224.82 L586.78,224.87 L587.97,224.93 L589.16,224.99 L590.35,225.04 L591.54,225.09 L592.73,225.14 L593.92,225.19 L595.11,225.23 L596.3,225.28 L597.5,225.32 L598.69,225.36 L599.88,225.4 L601.07,225.44 L602.27,225.47 L603.46,225.51 L604.65,225.54 L605.84,225.58 L607.04,225.61 L608.23,225.64 L609.42,225.67 L610.62,225.7 L611.81,225.73 L613,225.75 L614.19,225.78 L615.39,225.8 L616.58,225.83 L617.77,225.86 L618.97,225.88 L620.16,225.9 L621.35,225.93 L622.55,225.95 L623.74,225.97 L624.93,226 L626.13,226.02 L627.32,226.04 L628.51,226.06 L629.71,226.09 L630.9,226.11 L632.09,226.13 L633.29,226.15 L634.48,226.18 L635.67,226.2 L636.86,226.22 L638.06,226.25 L639.25,226.27 L640.44,226.3 L641.63,226.33 L642.83,226.35 L644.02,226.38 L645.21,226.41 L646.4,226.44 L647.59,226.47 L648.78,226.5 L649.97,226.53 L651.17,226.57 L652.36,226.6 L653.55,226.64 L654.74,226.67 L655.93,226.71 L657.12,226.75 L658.31,226.79 L659.5,226.84 L660.68,226.88 L661.87,226.93 L663.06,226.98 L664.25,227.03 L665.44,227.08 L666.62,227.13 L667.81,227.19 L669,227.25 L670.19,227.3 L671.4,227.2" fill="none" stroke="#000080" stroke-width="1.45" stroke-linejoin="round"/>
<path d="M420.3,187.6 L420.75,186.17 L421.21,184.74 L421.68,183.32 L422.17,181.93 L422.67,180.55 L423.19,179.18 L423.71,177.83 L424.24,176.48 L424.79,175.15 L425.33,173.82 L425.89,172.49 L426.45,171.17 L427.02,169.86 L427.59,168.54 L428.16,167.22 L428.73,165.89 L429.3,164.57 L429.87,163.23 L430.43,161.89 L430.99,160.54 L431.55,159.17 L432.1,157.79 L432.65,156.41 L433.2,155.01 L433.74,153.61 L434.3,152.2 L434.86,150.8 L435.44,149.41 L436.04,148.02 L436.65,146.66 L437.3,145.3 L437.97,143.97 L438.67,142.67 L439.41,141.39 L440.19,140.15 L441.01,138.94 L441.88,137.77 L442.81,136.65 L443.78,135.58 L444.82,134.55 L445.92,133.58 L447.07,132.68 L448.29,131.87 L449.54,131.19 L450.83,130.65 L452.15,130.28 L453.48,130.11 L454.82,130.18 L456.15,130.49 L457.47,131.01 L458.77,131.72 L460.05,132.56 L461.29,133.5 L462.49,134.5 L463.64,135.53 L464.74,136.59 L465.8,137.68 L466.82,138.8 L467.8,139.93 L468.74,141.09 L469.64,142.26 L470.51,143.45 L471.36,144.64 L472.18,145.85 L472.99,147.06 L473.79,148.28 L474.58,149.5 L475.36,150.72 L476.15,151.93 L476.94,153.14 L477.75,154.35 L478.57,155.54 L479.41,156.72 L480.27,157.88 L481.16,159.04 L482.07,160.18 L483,161.31 L483.95,162.42 L484.91,163.53 L485.88,164.63 L486.87,165.72 L487.86,166.8 L488.87,167.88 L489.88,168.95 L490.89,170.02 L491.91,171.08 L492.92,172.14 L493.94,173.2 L494.96,174.26 L495.97,175.31 L496.99,176.36 L498.01,177.41 L499.04,178.45 L500.07,179.48 L501.1,180.51 L502.13,181.53 L503.18,182.55 L504.22,183.56 L505.28,184.56 L506.34,185.56 L507.41,186.54 L508.48,187.52 L509.57,188.48 L510.67,189.44 L511.77,190.39 L512.89,191.32 L514.02,192.25 L515.16,193.16 L516.31,194.06 L517.48,194.95 L518.65,195.83 L519.84,196.69 L521.03,197.54 L522.24,198.38 L523.46,199.2 L524.68,200.02 L525.92,200.81 L527.16,201.6 L528.42,202.37 L529.68,203.12 L530.96,203.86 L532.24,204.59 L533.53,205.3 L534.83,205.99 L536.13,206.67 L537.45,207.34 L538.77,207.99 L540.1,208.62 L541.43,209.24 L542.78,209.84 L544.12,210.42 L545.48,210.99 L546.84,211.54 L548.21,212.07 L549.58,212.58 L550.96,213.08 L552.34,213.56 L553.73,214.02 L555.12,214.46 L556.51,214.88 L557.92,215.29 L559.32,215.68 L560.73,216.06 L562.14,216.41 L563.56,216.76 L564.98,217.09 L566.4,217.4 L567.83,217.7 L569.26,217.99 L570.69,218.26 L572.13,218.53 L573.57,218.78 L575.01,219.02 L576.45,219.25 L577.9,219.47 L579.34,219.68 L580.79,219.88 L582.24,220.07 L583.7,220.26 L585.15,220.43 L586.61,220.6 L588.06,220.77 L589.52,220.92 L590.98,221.07 L592.44,221.22 L593.89,221.36 L595.35,221.5 L596.81,221.64 L598.27,221.77 L599.73,221.9 L601.19,222.02 L602.65,222.15 L604.11,222.26 L605.57,222.38 L607.03,222.49 L608.49,222.6 L609.95,222.71 L611.42,222.81 L612.88,222.91 L614.34,223.01 L615.8,223.1 L617.26,223.2 L618.72,223.28 L620.18,223.37 L621.65,223.46 L623.11,223.54 L624.57,223.62 L626.03,223.69 L627.49,223.77 L628.96,223.84 L630.42,223.91 L631.88,223.98 L633.35,224.04 L634.81,224.11 L636.27,224.17 L637.73,224.23 L639.2,224.28 L640.66,224.34 L642.12,224.39 L643.59,224.44 L645.05,224.5 L646.51,224.54 L647.98,224.59 L649.44,224.64 L650.91,224.68 L652.37,224.72 L653.83,224.76 L655.3,224.8 L656.76,224.84 L658.22,224.88 L659.69,224.92 L661.15,224.95 L662.62,224.99 L664.08,225.02 L665.54,225.05 L667.01,225.08 L668.47,225.11 L669.94,225.14 L671.4,225.2" fill="none" stroke="#00f000" stroke-width="1.35" stroke-linejoin="round"/>
<path d="M541.8,42.5 H553.6" stroke="#00f000" stroke-width="1.6"/>
<text x="558.9" y="47.09" font-size="11.2" text-anchor="start" font-weight="normal" textLength="100.99" lengthAdjust="spacingAndGlyphs">10 min 80°C, PS20</text>
<path d="M541.8,58 H553.6" stroke="#111111" stroke-width="1.45" stroke-dasharray="2.6 1.8 5.6 4"/>
<text x="558.9" y="62.59" font-size="11.2" text-anchor="start" font-weight="normal" textLength="100.99" lengthAdjust="spacingAndGlyphs">10 min 75°C, PS20</text>
<path d="M541.8,73.5 H553.6" stroke="#000080" stroke-width="1.6"/>
<text x="558.9" y="78.09" font-size="11.2" text-anchor="start" font-weight="normal" textLength="49.28" lengthAdjust="spacingAndGlyphs">NS, PS20</text>
<path d="M541.8,89 H553.6" stroke="#ff0000" stroke-width="1.6" stroke-dasharray="5 2.2"/>
<text x="558.9" y="93.59" font-size="11.2" text-anchor="start" font-weight="normal" textLength="74.55" lengthAdjust="spacingAndGlyphs">placebo, PS20</text>
<text x="355.1" y="15.8" font-size="19.4" text-anchor="start" font-weight="normal" textLength="30.3" lengthAdjust="spacingAndGlyphs">(B)</text>
<text x="542.95" y="259.3" font-size="12.2" text-anchor="middle" font-weight="bold" textLength="162.1" lengthAdjust="spacingAndGlyphs">emission wavelength [nm]</text>
<text x="0" y="0" font-size="12.2" font-weight="bold" text-anchor="middle" textLength="170.5" lengthAdjust="spacingAndGlyphs" transform="translate(362.8,129.85) rotate(-90)">fluorescence intensity [a.u.]</text>
<path d="M68.1,302.3 H318.6 V504.6" fill="none" stroke="#c4c4c4" stroke-width="1.3"/>
<path d="M68.1,302.3 V504.6" fill="none" stroke="#c4c4c4" stroke-width="1.3"/>
<path d="M65.6,502.4 H68.1" stroke="#c4c4c4" stroke-width="1.2"/>
<text x="63.9" y="506.7" font-size="11.6" text-anchor="end" font-weight="normal" textLength="6.62" lengthAdjust="spacingAndGlyphs">0</text>
<path d="M65.6,452.38 H68.1" stroke="#c4c4c4" stroke-width="1.2"/>
<text x="63.9" y="456.68" font-size="11.6" text-anchor="end" font-weight="normal" textLength="26.48" lengthAdjust="spacingAndGlyphs">5000</text>
<path d="M65.6,402.35 H68.1" stroke="#c4c4c4" stroke-width="1.2"/>
<text x="63.9" y="406.65" font-size="11.6" text-anchor="end" font-weight="normal" textLength="33.1" lengthAdjust="spacingAndGlyphs">10000</text>
<path d="M65.6,352.32 H68.1" stroke="#c4c4c4" stroke-width="1.2"/>
<text x="63.9" y="356.62" font-size="11.6" text-anchor="end" font-weight="normal" textLength="33.1" lengthAdjust="spacingAndGlyphs">15000</text>
<path d="M65.6,302.3 H68.1" stroke="#c4c4c4" stroke-width="1.2"/>
<text x="63.9" y="306.6" font-size="11.6" text-anchor="end" font-weight="normal" textLength="33.1" lengthAdjust="spacingAndGlyphs">20000</text>
<path d="M68.1,502.4 V505.6" stroke="#c4c4c4" stroke-width="1.1"/>
<text x="68.1" y="518" font-size="11.6" text-anchor="middle" font-weight="normal" textLength="19.86" lengthAdjust="spacingAndGlyphs">450</text>
<path d="M130.72,502.4 V505.6" stroke="#c4c4c4" stroke-width="1.1"/>
<text x="130.72" y="518" font-size="11.6" text-anchor="middle" font-weight="normal" textLength="19.86" lengthAdjust="spacingAndGlyphs">500</text>
<path d="M193.35,502.4 V505.6" stroke="#c4c4c4" stroke-width="1.1"/>
<text x="193.35" y="518" font-size="11.6" text-anchor="middle" font-weight="normal" textLength="19.86" lengthAdjust="spacingAndGlyphs">550</text>
<path d="M255.98,502.4 V505.6" stroke="#c4c4c4" stroke-width="1.1"/>
<text x="255.98" y="518" font-size="11.6" text-anchor="middle" font-weight="normal" textLength="19.86" lengthAdjust="spacingAndGlyphs">600</text>
<path d="M318.6,502.4 V505.6" stroke="#c4c4c4" stroke-width="1.1"/>
<text x="318.6" y="518" font-size="11.6" text-anchor="middle" font-weight="normal" textLength="19.86" lengthAdjust="spacingAndGlyphs">650</text>
<path d="M68.1,502.4 H318.6" stroke="#686868" stroke-width="1.3"/>
<path d="M68.3,493.1 L69.56,492.71 L70.68,492.27 L71.77,491.79 L72.85,491.26 L73.9,490.7 L74.94,490.1 L75.96,489.46 L76.96,488.8 L77.94,488.1 L78.92,487.38 L79.87,486.63 L80.82,485.85 L81.76,485.06 L82.69,484.25 L83.6,483.42 L84.52,482.57 L85.42,481.72 L86.33,480.85 L87.23,479.98 L88.13,479.1 L89.02,478.22 L89.92,477.34 L90.82,476.45 L91.73,475.57 L92.64,474.7 L93.55,473.84 L94.47,472.98 L95.4,472.14 L96.34,471.31 L97.29,470.5 L98.25,469.7 L99.23,468.93 L100.22,468.18 L101.22,467.46 L102.24,466.76 L103.28,466.09 L104.34,465.46 L105.42,464.86 L106.51,464.29 L107.62,463.76 L108.74,463.27 L109.87,462.81 L111.01,462.39 L112.17,462.02 L113.33,461.69 L114.5,461.4 L115.68,461.15 L116.86,460.96 L118.04,460.81 L119.23,460.71 L120.42,460.66 L121.61,460.66 L122.8,460.71 L123.99,460.8 L125.18,460.94 L126.36,461.13 L127.54,461.36 L128.72,461.63 L129.9,461.93 L131.07,462.28 L132.24,462.66 L133.4,463.07 L134.55,463.51 L135.7,463.99 L136.83,464.49 L137.97,465.02 L139.09,465.57 L140.2,466.15 L141.3,466.75 L142.39,467.37 L143.47,468.01 L144.54,468.66 L145.6,469.33 L146.64,470.01 L147.68,470.7 L148.71,471.4 L149.73,472.11 L150.75,472.82 L151.77,473.53 L152.78,474.24 L153.79,474.95 L154.81,475.66 L155.82,476.36 L156.84,477.05 L157.87,477.73 L158.9,478.4 L159.94,479.05 L160.99,479.69 L162.04,480.31 L163.11,480.91 L164.18,481.5 L165.26,482.08 L166.34,482.64 L167.44,483.18 L168.54,483.72 L169.64,484.24 L170.75,484.74 L171.87,485.24 L172.99,485.72 L174.11,486.19 L175.24,486.66 L176.37,487.11 L177.51,487.55 L178.65,487.98 L179.79,488.4 L180.93,488.81 L182.08,489.21 L183.24,489.6 L184.39,489.98 L185.55,490.35 L186.71,490.72 L187.88,491.07 L189.04,491.42 L190.21,491.75 L191.39,492.08 L192.56,492.4 L193.74,492.71 L194.92,493.01 L196.11,493.3 L197.29,493.59 L198.48,493.87 L199.67,494.14 L200.87,494.4 L202.06,494.65 L203.26,494.9 L204.46,495.14 L205.66,495.37 L206.87,495.6 L208.07,495.82 L209.28,496.03 L210.49,496.24 L211.7,496.44 L212.92,496.63 L214.13,496.81 L215.35,496.99 L216.57,497.17 L217.79,497.34 L219.01,497.5 L220.23,497.66 L221.45,497.81 L222.68,497.95 L223.9,498.1 L225.13,498.23 L226.36,498.36 L227.58,498.49 L228.81,498.61 L230.04,498.73 L231.28,498.84 L232.51,498.95 L233.74,499.05 L234.97,499.15 L236.21,499.25 L237.44,499.34 L238.68,499.43 L239.91,499.52 L241.15,499.6 L242.38,499.68 L243.62,499.75 L244.85,499.82 L246.09,499.89 L247.32,499.96 L248.56,500.02 L249.79,500.09 L251.03,500.15 L252.26,500.2 L253.5,500.26 L254.73,500.31 L255.96,500.36 L257.2,500.41 L258.43,500.46 L259.66,500.51 L260.89,500.55 L262.12,500.6 L263.35,500.64 L264.58,500.68 L265.81,500.73 L267.03,500.77 L268.26,500.81 L269.48,500.85 L270.71,500.89 L271.93,500.92 L273.15,500.96 L274.37,501 L275.59,501.04 L276.81,501.07 L278.03,501.11 L279.25,501.14 L280.47,501.18 L281.69,501.21 L282.91,501.25 L284.12,501.28 L285.34,501.31 L286.56,501.34 L287.78,501.37 L289,501.4 L290.22,501.43 L291.44,501.46 L292.66,501.48 L293.88,501.51 L295.1,501.54 L296.32,501.56 L297.55,501.58 L298.77,501.61 L300,501.63 L301.22,501.65 L302.45,501.67 L303.68,501.69 L304.91,501.71 L306.14,501.73 L307.37,501.74 L308.61,501.76 L309.85,501.77 L311.08,501.79 L312.32,501.8 L313.56,501.81 L314.81,501.82 L316.05,501.83 L317.3,501.84 L318.5,501.9" fill="none" stroke="#111111" stroke-width="1.3" stroke-dasharray="5 2.2 2 2.2" stroke-linejoin="round"/>
<path d="M68.3,499.9 L69.56,499.76 L70.79,499.48 L71.99,499.17 L73.16,498.83 L74.32,498.46 L75.45,498.05 L76.57,497.61 L77.66,497.15 L78.75,496.66 L79.81,496.15 L80.86,495.61 L81.9,495.05 L82.92,494.47 L83.93,493.86 L84.93,493.25 L85.93,492.61 L86.91,491.96 L87.89,491.29 L88.86,490.61 L89.83,489.93 L90.79,489.23 L91.75,488.52 L92.71,487.81 L93.67,487.09 L94.63,486.36 L95.59,485.64 L96.55,484.91 L97.52,484.18 L98.5,483.46 L99.48,482.73 L100.46,482.02 L101.46,481.3 L102.47,480.6 L103.48,479.9 L104.51,479.21 L105.55,478.54 L106.59,477.88 L107.65,477.23 L108.72,476.59 L109.79,475.98 L110.87,475.38 L111.97,474.8 L113.07,474.24 L114.18,473.71 L115.29,473.2 L116.42,472.71 L117.55,472.26 L118.68,471.82 L119.83,471.42 L120.98,471.05 L122.13,470.71 L123.29,470.41 L124.46,470.14 L125.63,469.91 L126.8,469.71 L127.98,469.56 L129.16,469.44 L130.34,469.37 L131.52,469.34 L132.69,469.37 L133.86,469.43 L135.03,469.55 L136.18,469.72 L137.33,469.94 L138.47,470.21 L139.6,470.53 L140.72,470.88 L141.82,471.29 L142.92,471.73 L144.01,472.21 L145.08,472.73 L146.14,473.29 L147.19,473.87 L148.23,474.48 L149.27,475.11 L150.3,475.76 L151.33,476.43 L152.35,477.1 L153.38,477.78 L154.4,478.47 L155.43,479.15 L156.45,479.82 L157.48,480.49 L158.52,481.14 L159.57,481.78 L160.62,482.4 L161.68,482.99 L162.75,483.57 L163.83,484.12 L164.91,484.66 L166,485.18 L167.1,485.68 L168.21,486.16 L169.32,486.63 L170.43,487.08 L171.56,487.51 L172.68,487.93 L173.82,488.34 L174.96,488.73 L176.1,489.11 L177.25,489.47 L178.4,489.82 L179.55,490.17 L180.71,490.5 L181.87,490.82 L183.04,491.13 L184.2,491.43 L185.37,491.72 L186.55,492 L187.72,492.28 L188.9,492.55 L190.07,492.82 L191.25,493.07 L192.43,493.33 L193.61,493.57 L194.79,493.82 L195.97,494.05 L197.15,494.28 L198.33,494.51 L199.52,494.73 L200.7,494.95 L201.89,495.16 L203.07,495.37 L204.26,495.57 L205.44,495.76 L206.63,495.96 L207.82,496.14 L209.01,496.33 L210.2,496.5 L211.39,496.68 L212.58,496.85 L213.77,497.01 L214.97,497.17 L216.16,497.33 L217.35,497.48 L218.55,497.63 L219.74,497.78 L220.94,497.92 L222.13,498.05 L223.33,498.19 L224.53,498.31 L225.73,498.44 L226.92,498.56 L228.12,498.68 L229.32,498.79 L230.52,498.91 L231.72,499.01 L232.92,499.12 L234.12,499.22 L235.32,499.32 L236.53,499.41 L237.73,499.5 L238.93,499.59 L240.13,499.68 L241.34,499.76 L242.54,499.84 L243.74,499.92 L244.95,499.99 L246.15,500.06 L247.36,500.13 L248.56,500.2 L249.77,500.26 L250.97,500.33 L252.18,500.39 L253.38,500.44 L254.59,500.5 L255.8,500.55 L257,500.6 L258.21,500.65 L259.42,500.7 L260.62,500.74 L261.83,500.79 L263.04,500.83 L264.24,500.87 L265.45,500.91 L266.66,500.94 L267.87,500.98 L269.07,501.01 L270.28,501.04 L271.49,501.07 L272.7,501.1 L273.9,501.13 L275.11,501.16 L276.32,501.19 L277.53,501.21 L278.73,501.23 L279.94,501.26 L281.15,501.28 L282.36,501.3 L283.56,501.32 L284.77,501.34 L285.98,501.36 L287.18,501.38 L288.39,501.4 L289.6,501.42 L290.8,501.44 L292.01,501.46 L293.21,501.47 L294.42,501.49 L295.63,501.51 L296.83,501.53 L298.04,501.54 L299.24,501.56 L300.44,501.58 L301.65,501.6 L302.85,501.62 L304.06,501.63 L305.26,501.65 L306.46,501.67 L307.66,501.69 L308.87,501.71 L310.07,501.74 L311.27,501.76 L312.47,501.78 L313.67,501.8 L314.87,501.83 L316.07,501.86 L317.27,501.88 L318.5,501.9" fill="none" stroke="#ff0000" stroke-width="1.45" stroke-dasharray="5 2.4" stroke-linejoin="round"/>
<path d="M68.3,498.3 L69.58,498.25 L70.8,498.06 L72,497.83 L73.18,497.56 L74.33,497.25 L75.46,496.89 L76.57,496.5 L77.67,496.07 L78.74,495.62 L79.8,495.13 L80.85,494.61 L81.88,494.06 L82.9,493.49 L83.91,492.9 L84.91,492.29 L85.9,491.66 L86.88,491.01 L87.86,490.35 L88.83,489.68 L89.8,489 L90.76,488.31 L91.73,487.62 L92.69,486.92 L93.66,486.22 L94.63,485.52 L95.6,484.83 L96.58,484.14 L97.56,483.46 L98.55,482.78 L99.56,482.12 L100.57,481.47 L101.59,480.84 L102.62,480.23 L103.67,479.63 L104.74,479.06 L105.81,478.51 L106.9,477.98 L108,477.47 L109.1,476.98 L110.22,476.52 L111.35,476.08 L112.49,475.67 L113.63,475.28 L114.79,474.92 L115.94,474.59 L117.11,474.28 L118.28,474 L119.45,473.75 L120.63,473.52 L121.81,473.33 L122.99,473.16 L124.18,473.03 L125.37,472.93 L126.55,472.86 L127.74,472.82 L128.92,472.81 L130.11,472.84 L131.29,472.9 L132.46,472.99 L133.64,473.11 L134.81,473.27 L135.97,473.46 L137.12,473.68 L138.27,473.93 L139.41,474.22 L140.55,474.55 L141.67,474.9 L142.78,475.29 L143.88,475.71 L144.97,476.17 L146.05,476.66 L147.13,477.17 L148.19,477.71 L149.25,478.26 L150.3,478.83 L151.34,479.42 L152.39,480.01 L153.43,480.61 L154.48,481.21 L155.52,481.81 L156.56,482.41 L157.61,482.99 L158.67,483.57 L159.73,484.13 L160.79,484.67 L161.87,485.19 L162.95,485.7 L164.03,486.18 L165.13,486.66 L166.23,487.11 L167.33,487.55 L168.44,487.98 L169.55,488.39 L170.67,488.78 L171.8,489.17 L172.92,489.53 L174.06,489.89 L175.19,490.24 L176.33,490.57 L177.48,490.89 L178.63,491.21 L179.78,491.51 L180.93,491.8 L182.09,492.08 L183.24,492.36 L184.4,492.63 L185.57,492.89 L186.73,493.14 L187.9,493.38 L189.06,493.62 L190.23,493.86 L191.4,494.09 L192.57,494.31 L193.74,494.53 L194.91,494.75 L196.08,494.96 L197.26,495.17 L198.43,495.37 L199.6,495.57 L200.78,495.76 L201.95,495.95 L203.13,496.13 L204.3,496.31 L205.48,496.49 L206.66,496.66 L207.84,496.83 L209.02,496.99 L210.19,497.15 L211.37,497.3 L212.55,497.46 L213.74,497.6 L214.92,497.75 L216.1,497.89 L217.28,498.03 L218.46,498.16 L219.65,498.29 L220.83,498.42 L222.02,498.54 L223.2,498.66 L224.39,498.77 L225.57,498.89 L226.76,499 L227.94,499.1 L229.13,499.21 L230.32,499.31 L231.5,499.4 L232.69,499.5 L233.88,499.59 L235.07,499.68 L236.26,499.76 L237.45,499.85 L238.64,499.93 L239.83,500 L241.02,500.08 L242.21,500.15 L243.4,500.22 L244.59,500.29 L245.78,500.35 L246.97,500.42 L248.16,500.48 L249.36,500.54 L250.55,500.59 L251.74,500.65 L252.93,500.7 L254.12,500.75 L255.32,500.8 L256.51,500.85 L257.7,500.89 L258.9,500.93 L260.09,500.97 L261.28,501.01 L262.48,501.05 L263.67,501.09 L264.86,501.12 L266.06,501.16 L267.25,501.19 L268.44,501.22 L269.64,501.25 L270.83,501.28 L272.02,501.31 L273.22,501.33 L274.41,501.36 L275.61,501.38 L276.8,501.4 L277.99,501.43 L279.19,501.45 L280.38,501.47 L281.57,501.49 L282.77,501.51 L283.96,501.52 L285.15,501.54 L286.35,501.56 L287.54,501.58 L288.73,501.59 L289.92,501.61 L291.12,501.62 L292.31,501.64 L293.5,501.65 L294.69,501.67 L295.88,501.68 L297.07,501.7 L298.27,501.71 L299.46,501.73 L300.65,501.74 L301.84,501.76 L303.03,501.78 L304.22,501.79 L305.41,501.81 L306.6,501.82 L307.78,501.84 L308.97,501.86 L310.16,501.88 L311.35,501.9 L312.54,501.91 L313.72,501.94 L314.91,501.96 L316.1,501.98 L317.28,502 L318.5,502" fill="none" stroke="#000080" stroke-width="1.45" stroke-linejoin="round"/>
<path d="M68.3,451.8 L69.03,449.92 L69.75,448.06 L70.45,446.2 L71.14,444.33 L71.82,442.45 L72.48,440.56 L73.13,438.67 L73.76,436.77 L74.38,434.87 L74.99,432.96 L75.59,431.04 L76.18,429.12 L76.75,427.2 L77.31,425.27 L77.86,423.33 L78.41,421.39 L78.94,419.45 L79.46,417.51 L79.97,415.56 L80.47,413.61 L80.97,411.65 L81.46,409.7 L81.93,407.74 L82.4,405.78 L82.87,403.81 L83.32,401.85 L83.77,399.88 L84.21,397.92 L84.65,395.95 L85.08,393.98 L85.5,392.02 L85.92,390.05 L86.34,388.08 L86.75,386.12 L87.15,384.15 L87.56,382.19 L87.96,380.23 L88.35,378.27 L88.75,376.31 L89.14,374.35 L89.52,372.4 L89.91,370.45 L90.3,368.5 L90.68,366.55 L91.06,364.61 L91.45,362.67 L91.83,360.74 L92.21,358.81 L92.6,356.89 L92.98,354.97 L93.37,353.05 L93.78,351.12 L94.2,349.17 L94.64,347.21 L95.11,345.23 L95.62,343.21 L96.16,341.15 L96.75,339.05 L97.4,336.92 L98.13,334.83 L98.98,332.84 L99.98,331.03 L101.16,329.46 L102.55,328.22 L104.15,327.35 L105.88,326.89 L107.69,326.9 L109.53,327.36 L111.33,328.18 L113.02,329.26 L114.55,330.5 L115.94,331.89 L117.2,333.39 L118.35,335.01 L119.4,336.71 L120.37,338.49 L121.28,340.32 L122.15,342.19 L122.99,344.09 L123.82,346 L124.65,347.89 L125.51,349.76 L126.38,351.62 L127.26,353.46 L128.16,355.28 L129.06,357.09 L129.96,358.89 L130.87,360.69 L131.77,362.48 L132.67,364.27 L133.55,366.05 L134.42,367.84 L135.28,369.64 L136.12,371.44 L136.93,373.25 L137.72,375.07 L138.5,376.9 L139.25,378.73 L139.99,380.58 L140.71,382.43 L141.42,384.29 L142.11,386.15 L142.8,388.02 L143.47,389.89 L144.14,391.77 L144.8,393.66 L145.46,395.54 L146.11,397.43 L146.77,399.32 L147.42,401.21 L148.08,403.1 L148.74,404.99 L149.4,406.88 L150.07,408.77 L150.75,410.66 L151.44,412.55 L152.14,414.44 L152.86,416.32 L153.59,418.2 L154.33,420.07 L155.09,421.94 L155.88,423.8 L156.68,425.66 L157.5,427.51 L158.34,429.35 L159.2,431.19 L160.09,433.01 L160.99,434.82 L161.92,436.62 L162.86,438.41 L163.83,440.19 L164.83,441.95 L165.84,443.69 L166.88,445.42 L167.95,447.14 L169.03,448.83 L170.14,450.51 L171.28,452.17 L172.44,453.8 L173.63,455.42 L174.84,457.01 L176.08,458.58 L177.34,460.13 L178.63,461.65 L179.95,463.14 L181.3,464.61 L182.67,466.06 L184.07,467.47 L185.5,468.85 L186.96,470.21 L188.45,471.53 L189.97,472.82 L191.51,474.08 L193.09,475.3 L194.69,476.5 L196.32,477.66 L197.98,478.78 L199.66,479.88 L201.36,480.94 L203.09,481.97 L204.84,482.97 L206.6,483.93 L208.39,484.87 L210.19,485.77 L212.01,486.64 L213.84,487.47 L215.69,488.28 L217.55,489.05 L219.42,489.79 L221.3,490.5 L223.2,491.18 L225.1,491.83 L227,492.44 L228.92,493.03 L230.84,493.58 L232.77,494.11 L234.7,494.61 L236.64,495.08 L238.59,495.53 L240.54,495.95 L242.5,496.35 L244.47,496.72 L246.43,497.08 L248.41,497.41 L250.38,497.71 L252.37,498 L254.35,498.27 L256.34,498.52 L258.33,498.76 L260.33,498.97 L262.33,499.18 L264.33,499.36 L266.33,499.53 L268.34,499.69 L270.35,499.84 L272.36,499.97 L274.37,500.09 L276.38,500.21 L278.39,500.31 L280.41,500.41 L282.42,500.49 L284.43,500.58 L286.45,500.65 L288.46,500.72 L290.47,500.79 L292.49,500.85 L294.5,500.91 L296.51,500.97 L298.51,501.03 L300.52,501.09 L302.52,501.15 L304.52,501.21 L306.52,501.27 L308.52,501.34 L310.51,501.41 L312.5,501.49 L314.48,501.57 L316.46,501.66 L318.5,501.7" fill="none" stroke="#00f000" stroke-width="1.35" stroke-linejoin="round"/>
<path d="M219.9,316.3 H231.3" stroke="#00f000" stroke-width="1.6"/>
<text x="238" y="320.89" font-size="11.2" text-anchor="start" font-weight="normal" textLength="66.7" lengthAdjust="spacingAndGlyphs">10 min 80°C</text>
<path d="M219.9,332 H231.3" stroke="#111111" stroke-width="1.45" stroke-dasharray="2.6 1.8 5.6 4"/>
<text x="238" y="336.59" font-size="11.2" text-anchor="start" font-weight="normal" textLength="66.7" lengthAdjust="spacingAndGlyphs">10 min 75°C</text>
<path d="M219.9,347.6 H231.3" stroke="#000080" stroke-width="1.6"/>
<text x="238" y="352.19" font-size="11.2" text-anchor="start" font-weight="normal" textLength="14.99" lengthAdjust="spacingAndGlyphs">NS</text>
<path d="M219.9,363.2 H231.3" stroke="#ff0000" stroke-width="1.6" stroke-dasharray="5 2.2"/>
<text x="238" y="367.79" font-size="11.2" text-anchor="start" font-weight="normal" textLength="40.26" lengthAdjust="spacingAndGlyphs">placebo</text>
<text x="-0.7" y="289.5" font-size="19.4" text-anchor="start" font-weight="normal" textLength="30.8" lengthAdjust="spacingAndGlyphs">(C)</text>
<text x="189.95" y="534.3" font-size="12.2" text-anchor="middle" font-weight="bold" textLength="161.5" lengthAdjust="spacingAndGlyphs">emission wavelength [nm]</text>
<text x="0" y="0" font-size="12.2" font-weight="bold" text-anchor="middle" textLength="169.2" lengthAdjust="spacingAndGlyphs" transform="translate(8.3,403.7) rotate(-90)">fluorescence intensity [a.u.]</text>
<path d="M423.9,302.3 H675 V504.6" fill="none" stroke="#c4c4c4" stroke-width="1.3"/>
<path d="M423.9,302.3 V504.6" fill="none" stroke="#c4c4c4" stroke-width="1.3"/>
<path d="M421.4,502.4 H423.9" stroke="#c4c4c4" stroke-width="1.2"/>
<text x="419.7" y="506.7" font-size="11.6" text-anchor="end" font-weight="normal" textLength="6.62" lengthAdjust="spacingAndGlyphs">0</text>
<path d="M421.4,452.38 H423.9" stroke="#c4c4c4" stroke-width="1.2"/>
<text x="419.7" y="456.68" font-size="11.6" text-anchor="end" font-weight="normal" textLength="26.48" lengthAdjust="spacingAndGlyphs">5000</text>
<path d="M421.4,402.35 H423.9" stroke="#c4c4c4" stroke-width="1.2"/>
<text x="419.7" y="406.65" font-size="11.6" text-anchor="end" font-weight="normal" textLength="33.1" lengthAdjust="spacingAndGlyphs">10000</text>
<path d="M421.4,352.32 H423.9" stroke="#c4c4c4" stroke-width="1.2"/>
<text x="419.7" y="356.62" font-size="11.6" text-anchor="end" font-weight="normal" textLength="33.1" lengthAdjust="spacingAndGlyphs">15000</text>
<path d="M421.4,302.3 H423.9" stroke="#c4c4c4" stroke-width="1.2"/>
<text x="419.7" y="306.6" font-size="11.6" text-anchor="end" font-weight="normal" textLength="33.1" lengthAdjust="spacingAndGlyphs">20000</text>
<path d="M423.9,502.4 V505.6" stroke="#c4c4c4" stroke-width="1.1"/>
<text x="423.9" y="518" font-size="11.6" text-anchor="middle" font-weight="normal" textLength="19.86" lengthAdjust="spacingAndGlyphs">450</text>
<path d="M486.67,502.4 V505.6" stroke="#c4c4c4" stroke-width="1.1"/>
<text x="486.67" y="518" font-size="11.6" text-anchor="middle" font-weight="normal" textLength="19.86" lengthAdjust="spacingAndGlyphs">500</text>
<path d="M549.45,502.4 V505.6" stroke="#c4c4c4" stroke-width="1.1"/>
<text x="549.45" y="518" font-size="11.6" text-anchor="middle" font-weight="normal" textLength="19.86" lengthAdjust="spacingAndGlyphs">550</text>
<path d="M612.23,502.4 V505.6" stroke="#c4c4c4" stroke-width="1.1"/>
<text x="612.23" y="518" font-size="11.6" text-anchor="middle" font-weight="normal" textLength="19.86" lengthAdjust="spacingAndGlyphs">600</text>
<path d="M675,502.4 V505.6" stroke="#c4c4c4" stroke-width="1.1"/>
<text x="675" y="518" font-size="11.6" text-anchor="middle" font-weight="normal" textLength="19.86" lengthAdjust="spacingAndGlyphs">650</text>
<path d="M423.9,502.4 H675" stroke="#686868" stroke-width="1.3"/>
<path d="M424,491.9 L425.05,491.23 L426.16,490.62 L427.26,490.01 L428.34,489.4 L429.42,488.78 L430.48,488.16 L431.53,487.54 L432.58,486.9 L433.61,486.27 L434.63,485.62 L435.64,484.97 L436.65,484.31 L437.64,483.64 L438.63,482.96 L439.61,482.26 L440.58,481.56 L441.55,480.85 L442.51,480.12 L443.46,479.38 L444.41,478.63 L445.35,477.87 L446.29,477.08 L447.22,476.29 L448.15,475.47 L449.07,474.64 L450,473.79 L450.92,472.93 L451.84,472.06 L452.76,471.19 L453.68,470.31 L454.61,469.45 L455.55,468.6 L456.49,467.76 L457.45,466.95 L458.41,466.17 L459.39,465.42 L460.38,464.71 L461.39,464.05 L462.42,463.44 L463.47,462.88 L464.53,462.38 L465.63,461.95 L466.74,461.59 L467.89,461.31 L469.06,461.11 L470.24,460.98 L471.45,460.92 L472.67,460.92 L473.89,460.99 L475.11,461.1 L476.32,461.27 L477.53,461.48 L478.74,461.74 L479.94,462.03 L481.14,462.36 L482.32,462.71 L483.51,463.1 L484.69,463.5 L485.86,463.92 L487.03,464.36 L488.19,464.81 L489.35,465.27 L490.5,465.72 L491.65,466.18 L492.79,466.63 L493.92,467.08 L495.05,467.52 L496.17,467.97 L497.29,468.44 L498.39,468.91 L499.49,469.42 L500.58,469.95 L501.66,470.5 L502.73,471.09 L503.79,471.7 L504.85,472.32 L505.91,472.97 L506.96,473.62 L508,474.29 L509.05,474.96 L510.1,475.64 L511.14,476.31 L512.19,476.99 L513.24,477.65 L514.3,478.31 L515.36,478.95 L516.42,479.58 L517.49,480.2 L518.57,480.81 L519.65,481.4 L520.73,481.98 L521.82,482.55 L522.92,483.1 L524.01,483.64 L525.12,484.17 L526.22,484.69 L527.34,485.19 L528.45,485.69 L529.57,486.17 L530.7,486.64 L531.83,487.1 L532.96,487.55 L534.1,487.99 L535.24,488.42 L536.38,488.83 L537.53,489.24 L538.68,489.64 L539.84,490.02 L540.99,490.4 L542.16,490.76 L543.32,491.12 L544.49,491.47 L545.66,491.81 L546.83,492.13 L548.01,492.45 L549.19,492.76 L550.37,493.07 L551.56,493.36 L552.75,493.64 L553.94,493.92 L555.13,494.19 L556.33,494.45 L557.52,494.7 L558.72,494.95 L559.93,495.19 L561.13,495.42 L562.34,495.64 L563.54,495.86 L564.75,496.07 L565.96,496.27 L567.18,496.47 L568.39,496.66 L569.61,496.84 L570.83,497.02 L572.05,497.19 L573.27,497.35 L574.49,497.51 L575.71,497.67 L576.94,497.82 L578.16,497.96 L579.39,498.1 L580.61,498.24 L581.84,498.37 L583.07,498.49 L584.3,498.62 L585.52,498.73 L586.75,498.85 L587.98,498.96 L589.21,499.06 L590.44,499.16 L591.67,499.26 L592.9,499.36 L594.13,499.45 L595.36,499.54 L596.59,499.63 L597.82,499.71 L599.05,499.79 L600.28,499.87 L601.51,499.95 L602.74,500.02 L603.96,500.1 L605.19,500.17 L606.41,500.24 L607.64,500.3 L608.87,500.37 L610.09,500.43 L611.31,500.49 L612.54,500.55 L613.76,500.61 L614.99,500.66 L616.21,500.72 L617.43,500.77 L618.66,500.82 L619.88,500.87 L621.1,500.92 L622.32,500.97 L623.55,501.01 L624.77,501.06 L625.99,501.1 L627.21,501.14 L628.43,501.18 L629.65,501.22 L630.88,501.26 L632.1,501.29 L633.32,501.33 L634.54,501.36 L635.76,501.39 L636.99,501.43 L638.21,501.46 L639.43,501.49 L640.65,501.52 L641.87,501.55 L643.1,501.58 L644.32,501.6 L645.54,501.63 L646.77,501.66 L647.99,501.68 L649.21,501.71 L650.44,501.73 L651.66,501.76 L652.89,501.78 L654.11,501.8 L655.34,501.83 L656.57,501.85 L657.79,501.87 L659.02,501.9 L660.25,501.92 L661.48,501.94 L662.7,501.96 L663.93,501.99 L665.16,502.01 L666.39,502.03 L667.63,502.05 L668.86,502.07 L670.09,502.1 L671.32,502.12 L672.56,502.14 L673.79,502.17 L675,502.2" fill="none" stroke="#111111" stroke-width="1.3" stroke-dasharray="5 2.2 2 2.2" stroke-linejoin="round"/>
<path d="M424,497.7 L425.24,497.75 L426.51,497.78 L427.75,497.75 L428.97,497.68 L430.17,497.55 L431.36,497.39 L432.52,497.18 L433.67,496.93 L434.79,496.64 L435.91,496.31 L437.01,495.95 L438.1,495.55 L439.17,495.12 L440.24,494.66 L441.29,494.18 L442.34,493.66 L443.38,493.13 L444.41,492.57 L445.43,491.99 L446.45,491.39 L447.47,490.78 L448.48,490.15 L449.5,489.51 L450.51,488.85 L451.52,488.19 L452.53,487.52 L453.54,486.85 L454.56,486.17 L455.57,485.49 L456.59,484.81 L457.61,484.14 L458.63,483.47 L459.65,482.8 L460.68,482.15 L461.71,481.5 L462.75,480.87 L463.79,480.25 L464.84,479.65 L465.89,479.07 L466.95,478.5 L468.01,477.96 L469.08,477.45 L470.16,476.96 L471.25,476.5 L472.34,476.06 L473.44,475.67 L474.55,475.3 L475.67,474.97 L476.81,474.68 L477.95,474.43 L479.09,474.22 L480.25,474.05 L481.42,473.91 L482.59,473.82 L483.76,473.76 L484.94,473.73 L486.12,473.75 L487.3,473.8 L488.48,473.88 L489.66,474.01 L490.83,474.16 L492.01,474.35 L493.18,474.57 L494.34,474.83 L495.5,475.11 L496.65,475.43 L497.79,475.78 L498.92,476.16 L500.04,476.57 L501.14,477.01 L502.24,477.48 L503.33,477.97 L504.41,478.48 L505.48,479 L506.54,479.54 L507.61,480.09 L508.67,480.64 L509.72,481.2 L510.78,481.77 L511.84,482.32 L512.9,482.88 L513.96,483.42 L515.02,483.95 L516.1,484.47 L517.17,484.98 L518.25,485.47 L519.34,485.95 L520.43,486.42 L521.53,486.87 L522.63,487.31 L523.73,487.74 L524.84,488.16 L525.95,488.56 L527.07,488.95 L528.19,489.33 L529.32,489.7 L530.45,490.06 L531.58,490.41 L532.71,490.75 L533.85,491.08 L535,491.4 L536.14,491.71 L537.29,492.01 L538.44,492.3 L539.6,492.58 L540.76,492.85 L541.92,493.11 L543.08,493.37 L544.24,493.61 L545.41,493.85 L546.58,494.08 L547.75,494.31 L548.93,494.53 L550.1,494.74 L551.28,494.94 L552.46,495.14 L553.64,495.33 L554.82,495.51 L556.01,495.69 L557.19,495.86 L558.38,496.03 L559.56,496.19 L560.75,496.35 L561.94,496.51 L563.13,496.66 L564.32,496.8 L565.51,496.94 L566.7,497.08 L567.89,497.21 L569.08,497.34 L570.27,497.47 L571.46,497.6 L572.65,497.72 L573.84,497.84 L575.03,497.96 L576.22,498.07 L577.41,498.19 L578.6,498.3 L579.79,498.41 L580.98,498.52 L582.17,498.62 L583.36,498.73 L584.55,498.83 L585.73,498.93 L586.92,499.02 L588.11,499.12 L589.3,499.21 L590.48,499.3 L591.67,499.39 L592.86,499.48 L594.04,499.57 L595.23,499.65 L596.42,499.73 L597.61,499.81 L598.79,499.89 L599.98,499.97 L601.17,500.04 L602.35,500.11 L603.54,500.18 L604.73,500.25 L605.91,500.32 L607.1,500.38 L608.29,500.45 L609.48,500.51 L610.66,500.57 L611.85,500.63 L613.04,500.68 L614.23,500.74 L615.42,500.79 L616.61,500.84 L617.8,500.89 L618.99,500.94 L620.18,500.99 L621.37,501.04 L622.56,501.08 L623.75,501.12 L624.94,501.16 L626.13,501.2 L627.32,501.24 L628.51,501.28 L629.7,501.31 L630.89,501.35 L632.09,501.38 L633.28,501.41 L634.47,501.44 L635.66,501.47 L636.86,501.5 L638.05,501.53 L639.24,501.56 L640.44,501.59 L641.63,501.61 L642.82,501.64 L644.01,501.66 L645.21,501.68 L646.4,501.71 L647.59,501.73 L648.79,501.75 L649.98,501.77 L651.17,501.79 L652.37,501.82 L653.56,501.84 L654.75,501.86 L655.94,501.88 L657.14,501.89 L658.33,501.91 L659.52,501.93 L660.71,501.95 L661.9,501.97 L663.09,501.99 L664.29,502.01 L665.48,502.03 L666.67,502.05 L667.86,502.07 L669.05,502.09 L670.24,502.11 L671.43,502.13 L672.62,502.15 L673.8,502.17 L675,502.2" fill="none" stroke="#ff0000" stroke-width="1.45" stroke-dasharray="5 2.4" stroke-linejoin="round"/>
<path d="M424,496.7 L425.22,496.71 L426.48,496.74 L427.73,496.71 L428.95,496.63 L430.15,496.5 L431.33,496.33 L432.5,496.11 L433.65,495.84 L434.79,495.53 L435.91,495.19 L437.02,494.81 L438.12,494.39 L439.2,493.94 L440.27,493.47 L441.34,492.96 L442.39,492.43 L443.43,491.88 L444.47,491.31 L445.5,490.72 L446.52,490.12 L447.54,489.5 L448.55,488.87 L449.56,488.23 L450.57,487.58 L451.57,486.93 L452.58,486.28 L453.58,485.62 L454.58,484.96 L455.58,484.31 L456.59,483.65 L457.59,483 L458.6,482.36 L459.61,481.72 L460.62,481.09 L461.64,480.48 L462.67,479.87 L463.7,479.28 L464.73,478.7 L465.78,478.14 L466.83,477.59 L467.89,477.07 L468.96,476.57 L470.04,476.09 L471.13,475.63 L472.24,475.2 L473.35,474.8 L474.48,474.42 L475.62,474.08 L476.77,473.77 L477.94,473.49 L479.12,473.25 L480.31,473.04 L481.51,472.86 L482.72,472.72 L483.93,472.62 L485.14,472.55 L486.35,472.52 L487.55,472.53 L488.76,472.58 L489.95,472.66 L491.14,472.79 L492.32,472.95 L493.48,473.16 L494.63,473.41 L495.77,473.69 L496.9,474.01 L498.01,474.37 L499.11,474.76 L500.21,475.18 L501.29,475.63 L502.36,476.12 L503.43,476.62 L504.49,477.14 L505.55,477.67 L506.61,478.22 L507.67,478.77 L508.73,479.32 L509.79,479.88 L510.85,480.43 L511.92,480.98 L512.99,481.52 L514.07,482.05 L515.15,482.58 L516.23,483.09 L517.31,483.59 L518.4,484.08 L519.5,484.56 L520.59,485.03 L521.69,485.49 L522.79,485.94 L523.9,486.38 L525.01,486.81 L526.12,487.23 L527.24,487.64 L528.36,488.04 L529.48,488.43 L530.6,488.81 L531.73,489.18 L532.86,489.54 L533.99,489.9 L535.13,490.24 L536.27,490.58 L537.41,490.91 L538.55,491.22 L539.69,491.54 L540.84,491.84 L541.99,492.13 L543.15,492.42 L544.3,492.7 L545.46,492.97 L546.62,493.24 L547.78,493.49 L548.94,493.74 L550.11,493.98 L551.27,494.22 L552.44,494.45 L553.61,494.67 L554.78,494.89 L555.96,495.1 L557.13,495.3 L558.31,495.5 L559.49,495.69 L560.67,495.88 L561.85,496.06 L563.03,496.23 L564.22,496.4 L565.4,496.57 L566.59,496.73 L567.77,496.88 L568.96,497.03 L570.15,497.17 L571.34,497.31 L572.53,497.45 L573.72,497.58 L574.92,497.71 L576.11,497.83 L577.3,497.95 L578.5,498.07 L579.69,498.18 L580.89,498.29 L582.08,498.4 L583.28,498.5 L584.47,498.6 L585.67,498.69 L586.86,498.79 L588.06,498.88 L589.26,498.97 L590.45,499.06 L591.65,499.14 L592.85,499.22 L594.04,499.3 L595.24,499.38 L596.43,499.46 L597.63,499.53 L598.82,499.61 L600.01,499.68 L601.21,499.75 L602.4,499.82 L603.59,499.89 L604.78,499.96 L605.97,500.03 L607.16,500.1 L608.35,500.16 L609.54,500.23 L610.73,500.29 L611.92,500.35 L613.11,500.41 L614.3,500.48 L615.49,500.53 L616.68,500.59 L617.86,500.65 L619.05,500.71 L620.24,500.76 L621.42,500.81 L622.61,500.87 L623.8,500.92 L624.98,500.97 L626.17,501.02 L627.36,501.07 L628.54,501.12 L629.73,501.16 L630.92,501.21 L632.1,501.25 L633.29,501.29 L634.47,501.34 L635.66,501.38 L636.85,501.42 L638.04,501.46 L639.22,501.49 L640.41,501.53 L641.6,501.57 L642.78,501.6 L643.97,501.63 L645.16,501.67 L646.35,501.7 L647.54,501.73 L648.73,501.76 L649.92,501.79 L651.11,501.81 L652.3,501.84 L653.49,501.87 L654.68,501.89 L655.87,501.91 L657.07,501.93 L658.26,501.95 L659.45,501.97 L660.65,501.99 L661.84,502.01 L663.04,502.03 L664.23,502.04 L665.43,502.06 L666.63,502.07 L667.83,502.08 L669.03,502.09 L670.23,502.1 L671.43,502.11 L672.63,502.12 L673.83,502.13 L675,502.2" fill="none" stroke="#000080" stroke-width="1.45" stroke-linejoin="round"/>
<path d="M424,475.3 L424.82,474.09 L425.64,472.88 L426.45,471.66 L427.25,470.43 L428.04,469.2 L428.82,467.96 L429.59,466.72 L430.35,465.47 L431.11,464.22 L431.85,462.96 L432.58,461.7 L433.31,460.43 L434.03,459.16 L434.74,457.88 L435.44,456.61 L436.14,455.32 L436.83,454.04 L437.52,452.75 L438.19,451.46 L438.87,450.17 L439.53,448.87 L440.2,447.57 L440.86,446.27 L441.51,444.97 L442.16,443.66 L442.8,442.36 L443.45,441.05 L444.09,439.74 L444.72,438.43 L445.36,437.12 L445.99,435.81 L446.62,434.5 L447.25,433.19 L447.88,431.87 L448.51,430.56 L449.14,429.25 L449.77,427.94 L450.4,426.63 L451.04,425.32 L451.7,424.01 L452.39,422.71 L453.12,421.41 L453.9,420.12 L454.73,418.84 L455.62,417.57 L456.58,416.35 L457.6,415.19 L458.68,414.12 L459.82,413.17 L461.02,412.37 L462.28,411.73 L463.59,411.27 L464.94,410.99 L466.32,410.91 L467.7,411.04 L469.09,411.36 L470.46,411.85 L471.83,412.47 L473.16,413.18 L474.47,413.95 L475.73,414.75 L476.97,415.58 L478.17,416.44 L479.34,417.32 L480.47,418.23 L481.58,419.17 L482.67,420.13 L483.72,421.11 L484.76,422.11 L485.77,423.13 L486.76,424.17 L487.73,425.23 L488.68,426.3 L489.62,427.39 L490.54,428.49 L491.45,429.61 L492.35,430.74 L493.23,431.88 L494.12,433.03 L494.99,434.18 L495.86,435.35 L496.73,436.52 L497.59,437.69 L498.46,438.87 L499.32,440.06 L500.19,441.24 L501.06,442.42 L501.94,443.61 L502.83,444.79 L503.72,445.97 L504.62,447.15 L505.53,448.32 L506.44,449.49 L507.37,450.66 L508.3,451.82 L509.23,452.97 L510.18,454.12 L511.13,455.26 L512.09,456.4 L513.07,457.52 L514.05,458.63 L515.04,459.74 L516.04,460.83 L517.04,461.91 L518.06,462.99 L519.09,464.04 L520.13,465.09 L521.18,466.12 L522.24,467.13 L523.32,468.13 L524.4,469.12 L525.49,470.09 L526.6,471.04 L527.72,471.97 L528.85,472.88 L529.99,473.77 L531.15,474.65 L532.32,475.5 L533.5,476.34 L534.69,477.16 L535.89,477.95 L537.11,478.73 L538.33,479.5 L539.57,480.24 L540.81,480.97 L542.07,481.67 L543.33,482.36 L544.61,483.04 L545.89,483.69 L547.19,484.34 L548.49,484.96 L549.8,485.57 L551.12,486.16 L552.45,486.73 L553.79,487.29 L555.13,487.84 L556.48,488.37 L557.84,488.88 L559.21,489.38 L560.58,489.87 L561.96,490.34 L563.34,490.8 L564.73,491.24 L566.13,491.67 L567.53,492.09 L568.94,492.49 L570.35,492.89 L571.76,493.26 L573.18,493.63 L574.61,493.98 L576.04,494.33 L577.47,494.66 L578.91,494.97 L580.34,495.28 L581.79,495.58 L583.23,495.86 L584.68,496.14 L586.13,496.4 L587.58,496.66 L589.03,496.9 L590.48,497.13 L591.94,497.36 L593.39,497.58 L594.85,497.78 L596.31,497.98 L597.76,498.17 L599.22,498.35 L600.68,498.52 L602.13,498.69 L603.59,498.84 L605.05,498.99 L606.5,499.14 L607.96,499.27 L609.41,499.4 L610.86,499.52 L612.32,499.64 L613.77,499.75 L615.22,499.85 L616.68,499.95 L618.13,500.04 L619.58,500.13 L621.04,500.21 L622.49,500.29 L623.94,500.37 L625.4,500.44 L626.85,500.5 L628.3,500.57 L629.76,500.63 L631.21,500.68 L632.66,500.74 L634.12,500.79 L635.57,500.84 L637.02,500.88 L638.48,500.93 L639.93,500.97 L641.39,501.01 L642.85,501.05 L644.3,501.09 L645.76,501.13 L647.22,501.17 L648.67,501.21 L650.13,501.25 L651.59,501.29 L653.05,501.33 L654.51,501.37 L655.97,501.41 L657.43,501.45 L658.89,501.49 L660.36,501.54 L661.82,501.59 L663.29,501.64 L664.75,501.69 L666.22,501.74 L667.68,501.8 L669.15,501.86 L670.62,501.93 L672.09,501.99 L673.56,502.07 L675,502" fill="none" stroke="#00f000" stroke-width="1.35" stroke-linejoin="round"/>
<path d="M541.9,318.2 H553.3" stroke="#00f000" stroke-width="1.6"/>
<text x="559.5" y="322.79" font-size="11.2" text-anchor="start" font-weight="normal" textLength="100.99" lengthAdjust="spacingAndGlyphs">10 min 80°C, PS20</text>
<path d="M541.9,333.9 H553.3" stroke="#111111" stroke-width="1.45" stroke-dasharray="2.6 1.8 5.6 4"/>
<text x="559.5" y="338.49" font-size="11.2" text-anchor="start" font-weight="normal" textLength="100.99" lengthAdjust="spacingAndGlyphs">10 min 75°C, PS20</text>
<path d="M541.9,349.6 H553.3" stroke="#000080" stroke-width="1.6"/>
<text x="559.5" y="354.19" font-size="11.2" text-anchor="start" font-weight="normal" textLength="49.28" lengthAdjust="spacingAndGlyphs">NS, PS20</text>
<path d="M541.9,365.3 H553.3" stroke="#ff0000" stroke-width="1.6" stroke-dasharray="5 2.2"/>
<text x="559.5" y="369.89" font-size="11.2" text-anchor="start" font-weight="normal" textLength="74.55" lengthAdjust="spacingAndGlyphs">placebo, PS20</text>
<text x="354.8" y="289.5" font-size="19.4" text-anchor="start" font-weight="normal" textLength="32.3" lengthAdjust="spacingAndGlyphs">(D)</text>
<text x="546.3" y="534.3" font-size="12.2" text-anchor="middle" font-weight="bold" textLength="161.2" lengthAdjust="spacingAndGlyphs">emission wavelength [nm]</text>
<text x="0" y="0" font-size="12.2" font-weight="bold" text-anchor="middle" textLength="170.3" lengthAdjust="spacingAndGlyphs" transform="translate(364.1,403.75) rotate(-90)">fluorescence intensity [a.u.]</text>
<path d="M67.5,572 H317.6 V774.6" fill="none" stroke="#c4c4c4" stroke-width="1.3"/>
<path d="M67.5,572 V774.6" fill="none" stroke="#c4c4c4" stroke-width="1.3"/>
<path d="M65,772.4 H67.5" stroke="#c4c4c4" stroke-width="1.2"/>
<text x="63.3" y="776.7" font-size="11.6" text-anchor="end" font-weight="normal" textLength="6.62" lengthAdjust="spacingAndGlyphs">0</text>
<path d="M65,722.3 H67.5" stroke="#c4c4c4" stroke-width="1.2"/>
<text x="63.3" y="726.6" font-size="11.6" text-anchor="end" font-weight="normal" textLength="26.48" lengthAdjust="spacingAndGlyphs">5000</text>
<path d="M65,672.2 H67.5" stroke="#c4c4c4" stroke-width="1.2"/>
<text x="63.3" y="676.5" font-size="11.6" text-anchor="end" font-weight="normal" textLength="33.1" lengthAdjust="spacingAndGlyphs">10000</text>
<path d="M65,622.1 H67.5" stroke="#c4c4c4" stroke-width="1.2"/>
<text x="63.3" y="626.4" font-size="11.6" text-anchor="end" font-weight="normal" textLength="33.1" lengthAdjust="spacingAndGlyphs">15000</text>
<path d="M65,572 H67.5" stroke="#c4c4c4" stroke-width="1.2"/>
<text x="63.3" y="576.3" font-size="11.6" text-anchor="end" font-weight="normal" textLength="33.1" lengthAdjust="spacingAndGlyphs">20000</text>
<path d="M67.5,772.4 V775.6" stroke="#c4c4c4" stroke-width="1.1"/>
<text x="67.5" y="787" font-size="11.6" text-anchor="middle" font-weight="normal" textLength="19.86" lengthAdjust="spacingAndGlyphs">400</text>
<path d="M130.03,772.4 V775.6" stroke="#c4c4c4" stroke-width="1.1"/>
<text x="130.03" y="787" font-size="11.6" text-anchor="middle" font-weight="normal" textLength="19.86" lengthAdjust="spacingAndGlyphs">450</text>
<path d="M192.55,772.4 V775.6" stroke="#c4c4c4" stroke-width="1.1"/>
<text x="192.55" y="787" font-size="11.6" text-anchor="middle" font-weight="normal" textLength="19.86" lengthAdjust="spacingAndGlyphs">500</text>
<path d="M255.08,772.4 V775.6" stroke="#c4c4c4" stroke-width="1.1"/>
<text x="255.08" y="787" font-size="11.6" text-anchor="middle" font-weight="normal" textLength="19.86" lengthAdjust="spacingAndGlyphs">550</text>
<path d="M317.6,772.4 V775.6" stroke="#c4c4c4" stroke-width="1.1"/>
<text x="317.6" y="787" font-size="11.6" text-anchor="middle" font-weight="normal" textLength="19.86" lengthAdjust="spacingAndGlyphs">600</text>
<path d="M67.5,772.4 H317.6" stroke="#686868" stroke-width="1.3"/>
<path d="M67.6,772.4 L68.88,772.33 L70.14,772.29 L71.43,772.26 L72.72,772.23 L74.04,772.21 L75.36,772.17 L76.69,772.14 L78.03,772.09 L79.38,772.03 L80.73,771.96 L82.07,771.88 L83.42,771.78 L84.77,771.65 L86.11,771.5 L87.44,771.33 L88.77,771.12 L90.08,770.89 L91.38,770.62 L92.67,770.31 L93.94,769.96 L95.19,769.58 L96.42,769.15 L97.63,768.68 L98.82,768.17 L100,767.63 L101.16,767.05 L102.3,766.44 L103.44,765.8 L104.55,765.13 L105.65,764.44 L106.74,763.71 L107.82,762.97 L108.89,762.2 L109.94,761.41 L110.99,760.6 L112.03,759.77 L113.05,758.93 L114.07,758.07 L115.09,757.21 L116.09,756.33 L117.09,755.44 L118.09,754.55 L119.08,753.65 L120.07,752.75 L121.05,751.84 L122.03,750.94 L123.01,750.03 L123.99,749.13 L124.97,748.23 L125.94,747.33 L126.91,746.42 L127.88,745.52 L128.84,744.61 L129.8,743.7 L130.75,742.8 L131.7,741.88 L132.65,740.97 L133.58,740.05 L134.52,739.12 L135.44,738.2 L136.36,737.26 L137.28,736.33 L138.18,735.38 L139.08,734.43 L139.97,733.48 L140.85,732.51 L141.73,731.54 L142.59,730.56 L143.45,729.57 L144.29,728.57 L145.13,727.57 L145.95,726.55 L146.77,725.53 L147.57,724.49 L148.36,723.44 L149.14,722.38 L149.91,721.31 L150.67,720.23 L151.43,719.14 L152.19,718.06 L152.97,716.97 L153.75,715.89 L154.56,714.82 L155.4,713.77 L156.27,712.73 L157.17,711.71 L158.12,710.71 L159.12,709.75 L160.15,708.83 L161.22,707.95 L162.32,707.13 L163.45,706.38 L164.6,705.7 L165.76,705.1 L166.95,704.6 L168.14,704.18 L169.35,703.84 L170.56,703.58 L171.79,703.4 L173.03,703.3 L174.27,703.26 L175.52,703.28 L176.78,703.37 L178.05,703.52 L179.31,703.72 L180.58,703.97 L181.86,704.27 L183.13,704.61 L184.41,704.99 L185.68,705.41 L186.96,705.86 L188.23,706.34 L189.49,706.84 L190.76,707.37 L192.02,707.91 L193.27,708.47 L194.52,709.04 L195.76,709.61 L196.99,710.19 L198.21,710.78 L199.42,711.37 L200.63,711.96 L201.83,712.55 L203.02,713.15 L204.21,713.75 L205.39,714.35 L206.56,714.96 L207.73,715.57 L208.9,716.18 L210.06,716.79 L211.22,717.41 L212.37,718.02 L213.52,718.64 L214.67,719.27 L215.82,719.89 L216.96,720.51 L218.1,721.14 L219.25,721.77 L220.39,722.4 L221.53,723.03 L222.67,723.66 L223.81,724.29 L224.95,724.92 L226.1,725.56 L227.24,726.19 L228.39,726.82 L229.54,727.46 L230.69,728.09 L231.84,728.72 L232.99,729.36 L234.15,729.99 L235.3,730.62 L236.46,731.25 L237.62,731.88 L238.79,732.5 L239.95,733.13 L241.11,733.75 L242.28,734.38 L243.45,735 L244.62,735.61 L245.79,736.23 L246.97,736.84 L248.14,737.45 L249.32,738.06 L250.5,738.66 L251.68,739.27 L252.87,739.86 L254.05,740.46 L255.24,741.05 L256.43,741.63 L257.62,742.22 L258.82,742.79 L260.01,743.37 L261.21,743.94 L262.41,744.5 L263.61,745.06 L264.82,745.61 L266.02,746.16 L267.23,746.7 L268.44,747.24 L269.66,747.77 L270.87,748.3 L272.09,748.82 L273.31,749.33 L274.53,749.84 L275.75,750.34 L276.98,750.83 L278.21,751.32 L279.44,751.79 L280.67,752.27 L281.91,752.73 L283.15,753.19 L284.39,753.63 L285.63,754.07 L286.88,754.51 L288.13,754.93 L289.38,755.34 L290.63,755.75 L291.89,756.15 L293.15,756.53 L294.41,756.91 L295.67,757.28 L296.94,757.64 L298.21,757.99 L299.48,758.33 L300.75,758.66 L302.03,758.98 L303.31,759.29 L304.59,759.59 L305.88,759.88 L307.16,760.15 L308.45,760.42 L309.75,760.67 L311.04,760.91 L312.34,761.14 L313.64,761.36 L314.95,761.57 L316.26,761.76 L317.6,761.9" fill="none" stroke="#111111" stroke-width="1.3" stroke-dasharray="5 2.2 2 2.2" stroke-linejoin="round"/>
<path d="M67.6,772.4 L68.75,772.69 L69.89,772.69 L71.03,772.68 L72.17,772.67 L73.31,772.66 L74.46,772.66 L75.6,772.64 L76.74,772.63 L77.88,772.62 L79.02,772.61 L80.17,772.59 L81.31,772.57 L82.45,772.56 L83.59,772.54 L84.73,772.52 L85.87,772.5 L87.02,772.48 L88.16,772.46 L89.3,772.43 L90.44,772.41 L91.58,772.39 L92.72,772.36 L93.86,772.33 L95.01,772.31 L96.15,772.28 L97.29,772.25 L98.43,772.22 L99.57,772.19 L100.71,772.16 L101.86,772.13 L103,772.1 L104.14,772.07 L105.28,772.04 L106.42,772 L107.56,771.97 L108.7,771.93 L109.84,771.9 L110.99,771.86 L112.13,771.83 L113.27,771.79 L114.41,771.76 L115.55,771.72 L116.69,771.68 L117.83,771.64 L118.97,771.61 L120.12,771.57 L121.26,771.53 L122.4,771.49 L123.54,771.45 L124.68,771.42 L125.82,771.38 L126.96,771.34 L128.1,771.3 L129.25,771.26 L130.39,771.22 L131.53,771.18 L132.67,771.14 L133.81,771.1 L134.95,771.07 L136.09,771.03 L137.23,770.99 L138.37,770.95 L139.52,770.91 L140.66,770.87 L141.8,770.83 L142.94,770.8 L144.08,770.76 L145.22,770.72 L146.36,770.69 L147.5,770.65 L148.65,770.61 L149.79,770.58 L150.93,770.54 L152.07,770.51 L153.21,770.47 L154.35,770.44 L155.49,770.4 L156.63,770.37 L157.77,770.34 L158.92,770.31 L160.06,770.27 L161.2,770.24 L162.34,770.21 L163.48,770.18 L164.62,770.15 L165.76,770.13 L166.9,770.1 L168.04,770.07 L169.19,770.05 L170.33,770.02 L171.47,770 L172.61,769.97 L173.75,769.95 L174.89,769.93 L176.03,769.91 L177.17,769.89 L178.32,769.87 L179.46,769.85 L180.6,769.83 L181.74,769.82 L182.88,769.8 L184.02,769.79 L185.16,769.78 L186.3,769.76 L187.45,769.75 L188.59,769.75 L189.73,769.74 L190.87,769.73 L192.01,769.72 L193.15,769.72 L194.29,769.72 L195.44,769.71 L196.58,769.71 L197.72,769.71 L198.86,769.71 L200,769.71 L201.14,769.72 L202.28,769.72 L203.43,769.73 L204.57,769.73 L205.71,769.74 L206.85,769.75 L207.99,769.75 L209.13,769.76 L210.27,769.77 L211.42,769.78 L212.56,769.8 L213.7,769.81 L214.84,769.82 L215.98,769.84 L217.12,769.85 L218.27,769.87 L219.41,769.88 L220.55,769.9 L221.69,769.92 L222.83,769.94 L223.97,769.96 L225.12,769.98 L226.26,770 L227.4,770.02 L228.54,770.04 L229.68,770.06 L230.82,770.08 L231.97,770.11 L233.11,770.13 L234.25,770.16 L235.39,770.18 L236.53,770.21 L237.67,770.23 L238.82,770.26 L239.96,770.29 L241.1,770.31 L242.24,770.34 L243.38,770.37 L244.52,770.4 L245.67,770.43 L246.81,770.45 L247.95,770.48 L249.09,770.51 L250.23,770.54 L251.38,770.57 L252.52,770.6 L253.66,770.64 L254.8,770.67 L255.94,770.7 L257.08,770.73 L258.23,770.76 L259.37,770.79 L260.51,770.82 L261.65,770.86 L262.79,770.89 L263.93,770.92 L265.08,770.95 L266.22,770.99 L267.36,771.02 L268.5,771.05 L269.64,771.08 L270.79,771.12 L271.93,771.15 L273.07,771.18 L274.21,771.21 L275.35,771.25 L276.5,771.28 L277.64,771.31 L278.78,771.34 L279.92,771.37 L281.06,771.41 L282.2,771.44 L283.35,771.47 L284.49,771.5 L285.63,771.53 L286.77,771.56 L287.91,771.59 L289.06,771.62 L290.2,771.65 L291.34,771.68 L292.48,771.71 L293.62,771.74 L294.76,771.77 L295.91,771.8 L297.05,771.82 L298.19,771.85 L299.33,771.88 L300.47,771.91 L301.62,771.93 L302.76,771.96 L303.9,771.98 L305.04,772.01 L306.18,772.03 L307.32,772.06 L308.47,772.08 L309.61,772.1 L310.75,772.12 L311.89,772.14 L313.03,772.17 L314.18,772.19 L315.32,772.2 L316.46,772.22 L317.6,772.1" fill="none" stroke="#ff0000" stroke-width="1.45" stroke-dasharray="5 2.4" stroke-linejoin="round"/>
<path d="M67.6,772.4 L68.74,772.3 L69.89,772.35 L71.04,772.39 L72.18,772.42 L73.33,772.45 L74.47,772.47 L75.62,772.49 L76.76,772.5 L77.91,772.5 L79.05,772.5 L80.2,772.5 L81.34,772.49 L82.49,772.47 L83.63,772.45 L84.77,772.42 L85.92,772.39 L87.06,772.35 L88.2,772.31 L89.34,772.26 L90.49,772.21 L91.63,772.16 L92.77,772.1 L93.91,772.03 L95.05,771.97 L96.19,771.9 L97.34,771.82 L98.48,771.75 L99.62,771.66 L100.76,771.58 L101.9,771.49 L103.04,771.4 L104.18,771.31 L105.32,771.21 L106.46,771.11 L107.6,771.01 L108.74,770.91 L109.88,770.8 L111.01,770.69 L112.15,770.58 L113.29,770.47 L114.43,770.36 L115.57,770.24 L116.71,770.13 L117.85,770.01 L118.99,769.89 L120.12,769.77 L121.26,769.65 L122.4,769.52 L123.54,769.4 L124.68,769.28 L125.82,769.15 L126.95,769.03 L128.09,768.9 L129.23,768.78 L130.37,768.65 L131.51,768.53 L132.65,768.4 L133.78,768.28 L134.92,768.15 L136.06,768.03 L137.2,767.91 L138.34,767.78 L139.47,767.66 L140.61,767.54 L141.75,767.42 L142.89,767.3 L144.03,767.19 L145.17,767.07 L146.3,766.96 L147.44,766.85 L148.58,766.74 L149.72,766.63 L150.86,766.52 L152,766.42 L153.13,766.31 L154.27,766.22 L155.41,766.12 L156.55,766.02 L157.69,765.93 L158.83,765.84 L159.97,765.76 L161.11,765.67 L162.24,765.59 L163.38,765.52 L164.52,765.44 L165.66,765.37 L166.8,765.31 L167.94,765.24 L169.08,765.18 L170.22,765.13 L171.36,765.07 L172.5,765.02 L173.64,764.98 L174.78,764.93 L175.92,764.89 L177.06,764.86 L178.2,764.82 L179.34,764.8 L180.48,764.77 L181.62,764.75 L182.76,764.73 L183.9,764.72 L185.05,764.71 L186.19,764.7 L187.33,764.69 L188.47,764.69 L189.61,764.7 L190.75,764.7 L191.89,764.71 L193.03,764.72 L194.17,764.74 L195.32,764.75 L196.46,764.77 L197.6,764.8 L198.74,764.82 L199.88,764.85 L201.02,764.88 L202.17,764.92 L203.31,764.95 L204.45,764.99 L205.59,765.03 L206.73,765.07 L207.88,765.12 L209.02,765.17 L210.16,765.22 L211.3,765.27 L212.45,765.32 L213.59,765.38 L214.73,765.43 L215.87,765.49 L217.01,765.55 L218.16,765.62 L219.3,765.68 L220.44,765.75 L221.59,765.81 L222.73,765.88 L223.87,765.95 L225.01,766.02 L226.16,766.09 L227.3,766.17 L228.44,766.24 L229.58,766.32 L230.73,766.39 L231.87,766.47 L233.01,766.55 L234.16,766.63 L235.3,766.71 L236.44,766.79 L237.59,766.87 L238.73,766.95 L239.87,767.04 L241.01,767.12 L242.16,767.2 L243.3,767.29 L244.44,767.37 L245.59,767.45 L246.73,767.54 L247.87,767.62 L249.02,767.71 L250.16,767.79 L251.3,767.87 L252.45,767.96 L253.59,768.04 L254.73,768.12 L255.87,768.21 L257.02,768.29 L258.16,768.37 L259.3,768.45 L260.45,768.53 L261.59,768.61 L262.73,768.69 L263.88,768.77 L265.02,768.85 L266.16,768.93 L267.31,769 L268.45,769.08 L269.59,769.15 L270.73,769.22 L271.88,769.29 L273.02,769.36 L274.16,769.43 L275.31,769.5 L276.45,769.57 L277.59,769.63 L278.73,769.69 L279.88,769.75 L281.02,769.81 L282.16,769.87 L283.31,769.93 L284.45,769.98 L285.59,770.04 L286.73,770.09 L287.88,770.14 L289.02,770.18 L290.16,770.23 L291.31,770.27 L292.45,770.31 L293.59,770.35 L294.73,770.39 L295.88,770.42 L297.02,770.46 L298.16,770.49 L299.3,770.52 L300.45,770.54 L301.59,770.56 L302.73,770.59 L303.88,770.6 L305.02,770.62 L306.16,770.63 L307.3,770.64 L308.45,770.65 L309.59,770.66 L310.73,770.66 L311.87,770.66 L313.02,770.66 L314.16,770.65 L315.3,770.64 L316.45,770.63 L317.6,770.8" fill="none" stroke="#000080" stroke-width="1.45" stroke-linejoin="round"/>
<path d="M67.6,772.2 L69.42,772.09 L71.25,772.12 L73.1,772.15 L74.95,772.17 L76.8,772.15 L78.65,772.05 L80.48,771.85 L82.3,771.53 L84.1,771.09 L85.88,770.55 L87.62,769.9 L89.32,769.16 L90.99,768.33 L92.6,767.43 L94.17,766.45 L95.67,765.41 L97.12,764.3 L98.51,763.14 L99.85,761.93 L101.13,760.66 L102.36,759.34 L103.54,757.98 L104.68,756.57 L105.77,755.12 L106.81,753.63 L107.82,752.11 L108.79,750.55 L109.72,748.96 L110.61,747.34 L111.47,745.7 L112.3,744.04 L113.11,742.35 L113.88,740.65 L114.63,738.93 L115.36,737.2 L116.07,735.46 L116.76,733.72 L117.43,731.97 L118.09,730.21 L118.73,728.46 L119.36,726.72 L119.99,724.98 L120.61,723.24 L121.22,721.51 L121.83,719.79 L122.44,718.07 L123.05,716.35 L123.66,714.64 L124.27,712.94 L124.89,711.23 L125.52,709.53 L126.15,707.83 L126.79,706.14 L127.45,704.45 L128.12,702.75 L128.8,701.06 L129.5,699.38 L130.22,697.69 L130.96,696 L131.71,694.32 L132.47,692.63 L133.24,690.95 L134.03,689.26 L134.82,687.58 L135.61,685.9 L136.41,684.22 L137.21,682.54 L138.01,680.87 L138.81,679.19 L139.61,677.52 L140.4,675.84 L141.18,674.17 L141.95,672.5 L142.71,670.83 L143.46,669.17 L144.2,667.5 L144.92,665.83 L145.63,664.17 L146.32,662.5 L147.01,660.83 L147.68,659.15 L148.34,657.47 L148.98,655.78 L149.62,654.09 L150.25,652.39 L150.86,650.68 L151.47,648.96 L152.07,647.22 L152.66,645.48 L153.24,643.72 L153.81,641.95 L154.38,640.16 L154.93,638.35 L155.49,636.53 L156.03,634.69 L156.59,632.85 L157.18,631.01 L157.82,629.22 L158.54,627.48 L159.37,625.81 L160.32,624.25 L161.42,622.8 L162.68,621.49 L164.1,620.35 L165.63,619.39 L167.27,618.65 L168.97,618.14 L170.72,617.89 L172.49,617.9 L174.26,618.16 L176.02,618.63 L177.76,619.29 L179.45,620.12 L181.08,621.09 L182.64,622.19 L184.11,623.38 L185.49,624.65 L186.79,625.98 L188.04,627.34 L189.27,628.72 L190.49,630.09 L191.74,631.44 L193.01,632.75 L194.33,634.01 L195.67,635.26 L197.02,636.48 L198.38,637.71 L199.73,638.94 L201.06,640.19 L202.36,641.48 L203.62,642.8 L204.86,644.15 L206.06,645.53 L207.23,646.95 L208.38,648.38 L209.51,649.84 L210.62,651.32 L211.71,652.82 L212.78,654.33 L213.84,655.85 L214.9,657.37 L215.94,658.91 L216.98,660.44 L218.01,661.98 L219.05,663.51 L220.08,665.03 L221.12,666.55 L222.17,668.06 L223.22,669.56 L224.27,671.06 L225.32,672.55 L226.38,674.03 L227.45,675.51 L228.51,676.99 L229.58,678.46 L230.66,679.93 L231.74,681.4 L232.83,682.86 L233.91,684.32 L235.01,685.79 L236.11,687.25 L237.21,688.71 L238.32,690.18 L239.43,691.64 L240.55,693.1 L241.67,694.57 L242.8,696.03 L243.94,697.49 L245.08,698.95 L246.23,700.4 L247.38,701.85 L248.55,703.29 L249.72,704.73 L250.9,706.16 L252.09,707.59 L253.29,709.01 L254.49,710.41 L255.71,711.81 L256.94,713.2 L258.17,714.58 L259.42,715.95 L260.68,717.3 L261.95,718.65 L263.23,719.97 L264.52,721.29 L265.82,722.59 L267.14,723.87 L268.47,725.14 L269.81,726.39 L271.17,727.62 L272.54,728.83 L273.92,730.03 L275.32,731.2 L276.74,732.35 L278.16,733.48 L279.61,734.59 L281.07,735.68 L282.54,736.74 L284.03,737.78 L285.54,738.8 L287.07,739.78 L288.61,740.74 L290.17,741.68 L291.75,742.58 L293.35,743.46 L294.96,744.31 L296.6,745.13 L298.25,745.91 L299.93,746.67 L301.62,747.39 L303.33,748.08 L305.07,748.74 L306.82,749.36 L308.6,749.95 L310.4,750.5 L312.22,751.02 L314.06,751.49 L315.93,751.93 L317.6,752.4" fill="none" stroke="#00f000" stroke-width="1.35" stroke-linejoin="round"/>
<path d="M211.4,583.3 H223.7" stroke="#00f000" stroke-width="1.6"/>
<text x="229.2" y="587.89" font-size="11.2" text-anchor="start" font-weight="normal" textLength="67.41" lengthAdjust="spacingAndGlyphs">10 min 80°C</text>
<path d="M211.4,599 H223.7" stroke="#111111" stroke-width="1.45" stroke-dasharray="2.6 1.8 5.6 4"/>
<text x="229.2" y="603.59" font-size="11.2" text-anchor="start" font-weight="normal" textLength="67.41" lengthAdjust="spacingAndGlyphs">10 min 75°C</text>
<path d="M211.4,614.8 H223.7" stroke="#000080" stroke-width="1.6"/>
<text x="229.2" y="619.39" font-size="11.2" text-anchor="start" font-weight="normal" textLength="15.15" lengthAdjust="spacingAndGlyphs">NS</text>
<path d="M211.4,630.5 H223.7" stroke="#ff0000" stroke-width="1.6" stroke-dasharray="5 2.2"/>
<text x="229.2" y="635.09" font-size="11.2" text-anchor="start" font-weight="normal" textLength="40.68" lengthAdjust="spacingAndGlyphs">placebo</text>
<text x="-0.7" y="558.6" font-size="19.4" text-anchor="start" font-weight="normal" textLength="29.4" lengthAdjust="spacingAndGlyphs">(E)</text>
<text x="189.65" y="803.2" font-size="12.2" text-anchor="middle" font-weight="bold" textLength="162.7" lengthAdjust="spacingAndGlyphs">emission wavelength [nm]</text>
<text x="0" y="0" font-size="12.2" font-weight="bold" text-anchor="middle" textLength="169.7" lengthAdjust="spacingAndGlyphs" transform="translate(8.3,673.45) rotate(-90)">fluorescence intensity [a.u.]</text>
<path d="M423.8,571.4 H673.7 V774" fill="none" stroke="#c4c4c4" stroke-width="1.3"/>
<path d="M423.8,571.4 V774" fill="none" stroke="#c4c4c4" stroke-width="1.3"/>
<path d="M421.3,771.8 H423.8" stroke="#c4c4c4" stroke-width="1.2"/>
<text x="419.6" y="776.1" font-size="11.6" text-anchor="end" font-weight="normal" textLength="6.62" lengthAdjust="spacingAndGlyphs">0</text>
<path d="M421.3,721.7 H423.8" stroke="#c4c4c4" stroke-width="1.2"/>
<text x="419.6" y="726" font-size="11.6" text-anchor="end" font-weight="normal" textLength="26.48" lengthAdjust="spacingAndGlyphs">5000</text>
<path d="M421.3,671.6 H423.8" stroke="#c4c4c4" stroke-width="1.2"/>
<text x="419.6" y="675.9" font-size="11.6" text-anchor="end" font-weight="normal" textLength="33.1" lengthAdjust="spacingAndGlyphs">10000</text>
<path d="M421.3,621.5 H423.8" stroke="#c4c4c4" stroke-width="1.2"/>
<text x="419.6" y="625.8" font-size="11.6" text-anchor="end" font-weight="normal" textLength="33.1" lengthAdjust="spacingAndGlyphs">15000</text>
<path d="M421.3,571.4 H423.8" stroke="#c4c4c4" stroke-width="1.2"/>
<text x="419.6" y="575.7" font-size="11.6" text-anchor="end" font-weight="normal" textLength="33.1" lengthAdjust="spacingAndGlyphs">20000</text>
<path d="M423.8,771.8 V775" stroke="#c4c4c4" stroke-width="1.1"/>
<text x="423.8" y="787" font-size="11.6" text-anchor="middle" font-weight="normal" textLength="19.86" lengthAdjust="spacingAndGlyphs">400</text>
<path d="M486.28,771.8 V775" stroke="#c4c4c4" stroke-width="1.1"/>
<text x="486.28" y="787" font-size="11.6" text-anchor="middle" font-weight="normal" textLength="19.86" lengthAdjust="spacingAndGlyphs">450</text>
<path d="M548.75,771.8 V775" stroke="#c4c4c4" stroke-width="1.1"/>
<text x="548.75" y="787" font-size="11.6" text-anchor="middle" font-weight="normal" textLength="19.86" lengthAdjust="spacingAndGlyphs">500</text>
<path d="M611.23,771.8 V775" stroke="#c4c4c4" stroke-width="1.1"/>
<text x="611.23" y="787" font-size="11.6" text-anchor="middle" font-weight="normal" textLength="19.86" lengthAdjust="spacingAndGlyphs">550</text>
<path d="M673.7,771.8 V775" stroke="#c4c4c4" stroke-width="1.1"/>
<text x="673.7" y="787" font-size="11.6" text-anchor="middle" font-weight="normal" textLength="19.86" lengthAdjust="spacingAndGlyphs">600</text>
<path d="M423.8,771.8 H673.7" stroke="#686868" stroke-width="1.3"/>
<path d="M423.8,771.8 L425.41,771.69 L427.01,771.67 L428.62,771.67 L430.22,771.67 L431.83,771.69 L433.43,771.7 L435.04,771.7 L436.65,771.69 L438.26,771.65 L439.87,771.58 L441.48,771.48 L443.08,771.33 L444.69,771.12 L446.29,770.87 L447.89,770.55 L449.47,770.17 L451.05,769.74 L452.61,769.25 L454.16,768.7 L455.68,768.1 L457.18,767.45 L458.66,766.74 L460.1,765.98 L461.51,765.17 L462.88,764.31 L464.21,763.41 L465.5,762.45 L466.75,761.45 L467.94,760.41 L469.09,759.32 L470.2,758.2 L471.27,757.03 L472.3,755.83 L473.29,754.6 L474.25,753.33 L475.19,752.04 L476.09,750.73 L476.97,749.39 L477.83,748.03 L478.68,746.65 L479.5,745.25 L480.31,743.85 L481.12,742.43 L481.91,741 L482.7,739.57 L483.48,738.13 L484.27,736.69 L485.06,735.26 L485.86,733.82 L486.66,732.4 L487.47,730.98 L488.3,729.57 L489.14,728.17 L489.98,726.78 L490.83,725.39 L491.68,724.01 L492.54,722.64 L493.38,721.26 L494.22,719.89 L495.05,718.51 L495.87,717.13 L496.67,715.75 L497.46,714.36 L498.22,712.96 L498.96,711.56 L499.67,710.14 L500.35,708.71 L501,707.27 L501.63,705.82 L502.23,704.36 L502.81,702.89 L503.37,701.4 L503.92,699.91 L504.44,698.41 L504.96,696.9 L505.47,695.39 L505.96,693.86 L506.45,692.33 L506.94,690.79 L507.43,689.25 L507.92,687.7 L508.41,686.14 L508.9,684.58 L509.41,683.02 L509.93,681.45 L510.45,679.89 L511,678.32 L511.56,676.76 L512.14,675.21 L512.75,673.67 L513.38,672.14 L514.04,670.64 L514.73,669.15 L515.45,667.7 L516.21,666.27 L517.01,664.88 L517.85,663.52 L518.73,662.2 L519.66,660.93 L520.64,659.7 L521.67,658.53 L522.75,657.4 L523.89,656.34 L525.09,655.34 L526.35,654.4 L527.67,653.53 L529.07,652.73 L530.53,652.01 L532.05,651.36 L533.62,650.8 L535.23,650.33 L536.87,649.94 L538.51,649.65 L540.16,649.45 L541.8,649.36 L543.41,649.37 L544.99,649.49 L546.54,649.71 L548.04,650.03 L549.52,650.45 L550.96,650.95 L552.38,651.54 L553.76,652.2 L555.12,652.94 L556.45,653.75 L557.77,654.61 L559.06,655.53 L560.33,656.51 L561.58,657.53 L562.82,658.58 L564.04,659.68 L565.25,660.8 L566.45,661.95 L567.64,663.12 L568.82,664.3 L569.99,665.49 L571.16,666.68 L572.33,667.87 L573.5,669.05 L574.67,670.22 L575.84,671.38 L577.01,672.54 L578.17,673.69 L579.34,674.83 L580.5,675.97 L581.67,677.1 L582.83,678.22 L584,679.34 L585.16,680.46 L586.32,681.57 L587.48,682.68 L588.64,683.79 L589.8,684.89 L590.96,686 L592.11,687.1 L593.27,688.2 L594.42,689.3 L595.57,690.4 L596.72,691.5 L597.87,692.61 L599.02,693.71 L600.16,694.82 L601.3,695.93 L602.45,697.05 L603.58,698.16 L604.72,699.29 L605.86,700.42 L606.99,701.55 L608.12,702.69 L609.25,703.83 L610.38,704.99 L611.5,706.14 L612.63,707.3 L613.75,708.47 L614.88,709.64 L616.01,710.8 L617.14,711.97 L618.27,713.13 L619.41,714.29 L620.56,715.44 L621.71,716.59 L622.86,717.72 L624.03,718.85 L625.2,719.97 L626.38,721.08 L627.57,722.17 L628.77,723.25 L629.99,724.31 L631.21,725.36 L632.45,726.39 L633.7,727.39 L634.97,728.38 L636.26,729.34 L637.56,730.28 L638.87,731.2 L640.21,732.08 L641.56,732.94 L642.94,733.77 L644.33,734.57 L645.74,735.34 L647.17,736.09 L648.62,736.8 L650.08,737.5 L651.55,738.18 L653.04,738.84 L654.52,739.49 L656.02,740.13 L657.52,740.77 L659.02,741.39 L660.52,742.02 L662.02,742.65 L663.51,743.28 L665,743.91 L666.48,744.56 L667.95,745.21 L669.4,745.89 L670.84,746.58 L672.27,747.28 L673.7,748" fill="none" stroke="#111111" stroke-width="1.3" stroke-dasharray="5 2.2 2 2.2" stroke-linejoin="round"/>
<path d="M423.8,771.8 L425.37,771.74 L426.95,771.77 L428.54,771.79 L430.14,771.8 L431.76,771.8 L433.39,771.79 L435.02,771.76 L436.65,771.71 L438.29,771.63 L439.92,771.52 L441.56,771.38 L443.18,771.21 L444.8,771 L446.4,770.75 L448,770.45 L449.57,770.11 L451.13,769.71 L452.67,769.26 L454.18,768.75 L455.67,768.18 L457.13,767.55 L458.57,766.86 L459.97,766.1 L461.34,765.29 L462.69,764.42 L464,763.5 L465.28,762.52 L466.52,761.51 L467.74,760.44 L468.92,759.34 L470.07,758.19 L471.18,757.01 L472.26,755.8 L473.31,754.55 L474.32,753.28 L475.29,751.97 L476.22,750.65 L477.12,749.3 L477.99,747.93 L478.83,746.55 L479.65,745.16 L480.46,743.76 L481.25,742.35 L482.03,740.93 L482.8,739.52 L483.58,738.11 L484.35,736.69 L485.13,735.28 L485.9,733.87 L486.68,732.46 L487.46,731.05 L488.25,729.65 L489.04,728.25 L489.85,726.85 L490.66,725.46 L491.48,724.08 L492.32,722.69 L493.16,721.32 L494.02,719.95 L494.89,718.58 L495.75,717.21 L496.6,715.84 L497.44,714.46 L498.26,713.07 L499.05,711.67 L499.81,710.25 L500.53,708.82 L501.2,707.37 L501.84,705.9 L502.45,704.42 L503.02,702.92 L503.57,701.41 L504.09,699.89 L504.6,698.36 L505.08,696.83 L505.55,695.28 L506.01,693.73 L506.47,692.18 L506.91,690.62 L507.36,689.07 L507.8,687.51 L508.26,685.95 L508.72,684.4 L509.19,682.85 L509.67,681.31 L510.17,679.77 L510.7,678.24 L511.24,676.73 L511.82,675.22 L512.42,673.72 L513.06,672.24 L513.74,670.77 L514.45,669.32 L515.21,667.89 L516.01,666.48 L516.87,665.09 L517.77,663.72 L518.72,662.38 L519.71,661.08 L520.76,659.82 L521.84,658.6 L522.97,657.43 L524.15,656.32 L525.36,655.26 L526.61,654.27 L527.91,653.35 L529.24,652.5 L530.61,651.72 L532.02,651.03 L533.46,650.43 L534.94,649.92 L536.45,649.51 L537.99,649.2 L539.56,648.99 L541.15,648.88 L542.76,648.87 L544.37,648.95 L545.99,649.11 L547.6,649.37 L549.2,649.71 L550.79,650.14 L552.34,650.64 L553.87,651.21 L555.36,651.86 L556.8,652.58 L558.21,653.36 L559.58,654.2 L560.92,655.09 L562.23,656.03 L563.52,657.02 L564.78,658.04 L566.01,659.1 L567.23,660.18 L568.43,661.28 L569.62,662.4 L570.8,663.54 L571.98,664.68 L573.15,665.82 L574.31,666.96 L575.47,668.1 L576.64,669.24 L577.8,670.37 L578.95,671.51 L580.11,672.64 L581.26,673.78 L582.41,674.91 L583.56,676.04 L584.71,677.18 L585.85,678.31 L586.99,679.44 L588.14,680.57 L589.28,681.71 L590.42,682.84 L591.55,683.97 L592.69,685.1 L593.83,686.24 L594.96,687.37 L596.09,688.5 L597.23,689.64 L598.36,690.78 L599.49,691.91 L600.62,693.05 L601.75,694.19 L602.87,695.33 L604,696.47 L605.13,697.62 L606.26,698.76 L607.38,699.91 L608.51,701.06 L609.64,702.21 L610.76,703.36 L611.89,704.52 L613.02,705.68 L614.15,706.83 L615.28,707.99 L616.41,709.14 L617.54,710.29 L618.68,711.44 L619.83,712.58 L620.98,713.72 L622.13,714.86 L623.29,715.98 L624.46,717.1 L625.63,718.21 L626.82,719.31 L628.01,720.4 L629.21,721.47 L630.41,722.54 L631.63,723.59 L632.86,724.63 L634.1,725.65 L635.36,726.66 L636.62,727.65 L637.9,728.62 L639.19,729.57 L640.5,730.51 L641.82,731.42 L643.15,732.32 L644.51,733.19 L645.87,734.04 L647.26,734.86 L648.66,735.66 L650.08,736.43 L651.53,737.18 L652.99,737.9 L654.47,738.59 L655.96,739.26 L657.47,739.9 L658.99,740.53 L660.52,741.15 L662.04,741.76 L663.56,742.37 L665.07,742.98 L666.57,743.6 L668.06,744.23 L669.52,744.87 L670.96,745.54 L672.36,746.23 L673.7,747" fill="none" stroke="#ff0000" stroke-width="1.45" stroke-dasharray="5 2.4" stroke-linejoin="round"/>
<path d="M423.8,771.8 L425.37,771.65 L426.93,771.6 L428.51,771.58 L430.09,771.58 L431.69,771.6 L433.3,771.64 L434.91,771.68 L436.52,771.71 L438.15,771.73 L439.77,771.74 L441.39,771.71 L443.02,771.66 L444.64,771.57 L446.25,771.44 L447.85,771.26 L449.44,771.04 L451.02,770.77 L452.58,770.45 L454.11,770.07 L455.63,769.64 L457.12,769.14 L458.57,768.57 L460,767.94 L461.39,767.23 L462.74,766.45 L464.06,765.61 L465.34,764.69 L466.59,763.72 L467.8,762.69 L468.97,761.61 L470.11,760.48 L471.22,759.3 L472.29,758.09 L473.33,756.84 L474.34,755.56 L475.31,754.25 L476.25,752.92 L477.16,751.57 L478.04,750.2 L478.89,748.82 L479.71,747.44 L480.51,746.05 L481.29,744.65 L482.05,743.26 L482.81,741.86 L483.57,740.46 L484.33,739.07 L485.1,737.68 L485.89,736.29 L486.69,734.91 L487.5,733.53 L488.33,732.16 L489.16,730.79 L490,729.42 L490.84,728.06 L491.68,726.69 L492.52,725.32 L493.36,723.95 L494.2,722.58 L495.02,721.21 L495.84,719.84 L496.65,718.46 L497.44,717.07 L498.21,715.68 L498.97,714.29 L499.71,712.88 L500.42,711.47 L501.11,710.06 L501.78,708.63 L502.43,707.2 L503.07,705.76 L503.68,704.31 L504.29,702.85 L504.88,701.39 L505.45,699.93 L506.02,698.45 L506.58,696.97 L507.13,695.49 L507.68,694 L508.22,692.5 L508.75,691 L509.29,689.5 L509.83,687.99 L510.36,686.47 L510.9,684.95 L511.45,683.43 L512,681.9 L512.56,680.37 L513.13,678.83 L513.71,677.3 L514.31,675.78 L514.94,674.27 L515.59,672.78 L516.27,671.3 L516.98,669.85 L517.73,668.42 L518.52,667.03 L519.35,665.67 L520.23,664.35 L521.17,663.07 L522.15,661.84 L523.2,660.66 L524.31,659.54 L525.49,658.47 L526.72,657.47 L528.02,656.54 L529.38,655.69 L530.79,654.92 L532.24,654.25 L533.74,653.67 L535.27,653.18 L536.84,652.8 L538.42,652.51 L540.01,652.31 L541.6,652.21 L543.18,652.21 L544.75,652.31 L546.29,652.5 L547.81,652.79 L549.29,653.16 L550.75,653.63 L552.19,654.17 L553.6,654.78 L554.99,655.47 L556.35,656.22 L557.7,657.03 L559.03,657.89 L560.33,658.81 L561.63,659.77 L562.9,660.76 L564.17,661.8 L565.42,662.86 L566.65,663.94 L567.88,665.05 L569.1,666.17 L570.31,667.3 L571.51,668.43 L572.71,669.56 L573.91,670.69 L575.09,671.81 L576.28,672.93 L577.46,674.04 L578.64,675.15 L579.81,676.26 L580.98,677.37 L582.15,678.47 L583.31,679.57 L584.47,680.67 L585.62,681.76 L586.78,682.86 L587.93,683.95 L589.07,685.04 L590.22,686.13 L591.36,687.23 L592.5,688.32 L593.64,689.41 L594.78,690.51 L595.91,691.6 L597.04,692.7 L598.17,693.8 L599.3,694.9 L600.43,696 L601.55,697.11 L602.68,698.22 L603.8,699.34 L604.92,700.45 L606.05,701.58 L607.17,702.7 L608.29,703.83 L609.41,704.97 L610.53,706.11 L611.65,707.25 L612.77,708.4 L613.9,709.54 L615.03,710.69 L616.16,711.83 L617.29,712.97 L618.44,714.11 L619.58,715.24 L620.73,716.36 L621.89,717.48 L623.06,718.58 L624.23,719.68 L625.42,720.77 L626.61,721.84 L627.81,722.9 L629.02,723.95 L630.24,724.98 L631.48,725.99 L632.72,726.99 L633.98,727.96 L635.26,728.92 L636.55,729.86 L637.85,730.77 L639.17,731.66 L640.5,732.52 L641.85,733.36 L643.22,734.17 L644.6,734.95 L646.01,735.71 L647.42,736.44 L648.86,737.15 L650.3,737.84 L651.75,738.52 L653.22,739.18 L654.69,739.82 L656.16,740.46 L657.64,741.09 L659.12,741.71 L660.6,742.33 L662.08,742.96 L663.56,743.58 L665.03,744.21 L666.5,744.84 L667.96,745.48 L669.41,746.14 L670.85,746.81 L672.28,747.49 L673.7,748.2" fill="none" stroke="#000080" stroke-width="1.45" stroke-linejoin="round"/>
<path d="M423.8,771.8 L425.55,771.72 L427.29,771.69 L429.07,771.66 L430.88,771.62 L432.71,771.57 L434.55,771.5 L436.4,771.4 L438.25,771.27 L440.1,771.09 L441.93,770.85 L443.75,770.56 L445.54,770.2 L447.29,769.75 L449.01,769.23 L450.69,768.61 L452.31,767.89 L453.89,767.07 L455.42,766.17 L456.9,765.18 L458.33,764.12 L459.71,762.98 L461.05,761.78 L462.35,760.52 L463.61,759.2 L464.82,757.84 L465.99,756.44 L467.12,755 L468.21,753.53 L469.26,752.04 L470.28,750.53 L471.26,749 L472.2,747.46 L473.12,745.91 L474,744.34 L474.86,742.75 L475.69,741.16 L476.5,739.55 L477.29,737.93 L478.06,736.31 L478.81,734.67 L479.55,733.03 L480.27,731.38 L480.98,729.72 L481.68,728.07 L482.37,726.4 L483.06,724.74 L483.75,723.07 L484.43,721.4 L485.12,719.73 L485.8,718.06 L486.49,716.39 L487.19,714.72 L487.9,713.06 L488.62,711.4 L489.35,709.75 L490.09,708.1 L490.85,706.46 L491.63,704.83 L492.41,703.2 L493.2,701.57 L494,699.95 L494.79,698.32 L495.58,696.7 L496.36,695.07 L497.13,693.44 L497.88,691.8 L498.62,690.15 L499.33,688.5 L500.01,686.84 L500.67,685.17 L501.3,683.48 L501.9,681.79 L502.48,680.09 L503.04,678.38 L503.58,676.66 L504.11,674.94 L504.62,673.22 L505.13,671.48 L505.62,669.75 L506.12,668.01 L506.6,666.27 L507.09,664.53 L507.58,662.79 L508.07,661.04 L508.57,659.3 L509.08,657.56 L509.6,655.83 L510.14,654.09 L510.69,652.37 L511.26,650.64 L511.85,648.92 L512.46,647.21 L513.1,645.51 L513.77,643.82 L514.46,642.14 L515.18,640.48 L515.93,638.83 L516.71,637.2 L517.53,635.59 L518.37,633.99 L519.26,632.43 L520.17,630.88 L521.13,629.36 L522.12,627.88 L523.17,626.43 L524.3,625.07 L525.53,623.81 L526.89,622.68 L528.38,621.69 L529.99,620.85 L531.68,620.14 L533.45,619.54 L535.25,619.04 L537.07,618.66 L538.89,618.43 L540.69,618.37 L542.46,618.51 L544.18,618.85 L545.85,619.36 L547.48,620.02 L549.05,620.81 L550.57,621.71 L552.05,622.71 L553.48,623.79 L554.88,624.94 L556.25,626.15 L557.59,627.4 L558.91,628.69 L560.2,629.99 L561.48,631.3 L562.75,632.62 L563.99,633.95 L565.23,635.29 L566.45,636.63 L567.65,637.99 L568.84,639.35 L570.02,640.71 L571.19,642.09 L572.35,643.47 L573.5,644.85 L574.64,646.24 L575.77,647.64 L576.89,649.04 L578.01,650.45 L579.11,651.86 L580.21,653.27 L581.31,654.69 L582.4,656.12 L583.48,657.54 L584.56,658.97 L585.64,660.4 L586.72,661.84 L587.79,663.28 L588.86,664.72 L589.94,666.16 L591.01,667.6 L592.08,669.04 L593.15,670.49 L594.23,671.93 L595.31,673.38 L596.39,674.83 L597.47,676.27 L598.56,677.72 L599.65,679.16 L600.75,680.6 L601.85,682.04 L602.96,683.48 L604.07,684.91 L605.19,686.34 L606.31,687.77 L607.44,689.19 L608.57,690.6 L609.72,692.02 L610.86,693.42 L612.02,694.82 L613.18,696.21 L614.35,697.6 L615.53,698.98 L616.72,700.35 L617.91,701.71 L619.11,703.06 L620.33,704.41 L621.55,705.74 L622.78,707.06 L624.02,708.38 L625.27,709.68 L626.53,710.97 L627.8,712.25 L629.08,713.51 L630.37,714.77 L631.67,716.01 L632.99,717.23 L634.32,718.44 L635.65,719.64 L637.01,720.82 L638.37,721.99 L639.74,723.14 L641.13,724.27 L642.54,725.39 L643.95,726.49 L645.38,727.57 L646.83,728.63 L648.29,729.67 L649.76,730.7 L651.25,731.71 L652.75,732.69 L654.27,733.66 L655.8,734.6 L657.35,735.52 L658.92,736.42 L660.5,737.3 L662.1,738.16 L663.72,738.99 L665.35,739.8 L667,740.58 L668.67,741.34 L670.36,742.08 L672.06,742.79 L673.7,743.4" fill="none" stroke="#00f000" stroke-width="1.35" stroke-linejoin="round"/>
<path d="M429.7,577.6 H441.7" stroke="#00f000" stroke-width="1.6"/>
<text x="448.2" y="581.95" font-size="10.6" text-anchor="start" font-weight="normal" textLength="95.4" lengthAdjust="spacingAndGlyphs">10 min 80°C, PS20</text>
<path d="M429.7,592.5 H441.7" stroke="#111111" stroke-width="1.45" stroke-dasharray="2.6 1.8 5.6 4"/>
<text x="448.2" y="596.85" font-size="10.6" text-anchor="start" font-weight="normal" textLength="95.4" lengthAdjust="spacingAndGlyphs">10 min 75°C, PS20</text>
<path d="M429.7,607.2 H441.7" stroke="#000080" stroke-width="1.6"/>
<text x="448.2" y="611.55" font-size="10.6" text-anchor="start" font-weight="normal" textLength="46.55" lengthAdjust="spacingAndGlyphs">NS, PS20</text>
<path d="M429.7,621.9 H441.7" stroke="#ff0000" stroke-width="1.6" stroke-dasharray="5 2.2"/>
<text x="448.2" y="626.25" font-size="10.6" text-anchor="start" font-weight="normal" textLength="70.42" lengthAdjust="spacingAndGlyphs">placebo, PS20</text>
<text x="354.8" y="558.6" font-size="19.4" text-anchor="start" font-weight="normal" textLength="28.3" lengthAdjust="spacingAndGlyphs">(F)</text>
<text x="545.65" y="803.2" font-size="12.2" text-anchor="middle" font-weight="bold" textLength="163.1" lengthAdjust="spacingAndGlyphs">emission wavelength [nm]</text>
<text x="0" y="0" font-size="12.2" font-weight="bold" text-anchor="middle" textLength="170.6" lengthAdjust="spacingAndGlyphs" transform="translate(364.1,673) rotate(-90)">fluorescence intensity [a.u.]</text>
</svg>
</body></html>
